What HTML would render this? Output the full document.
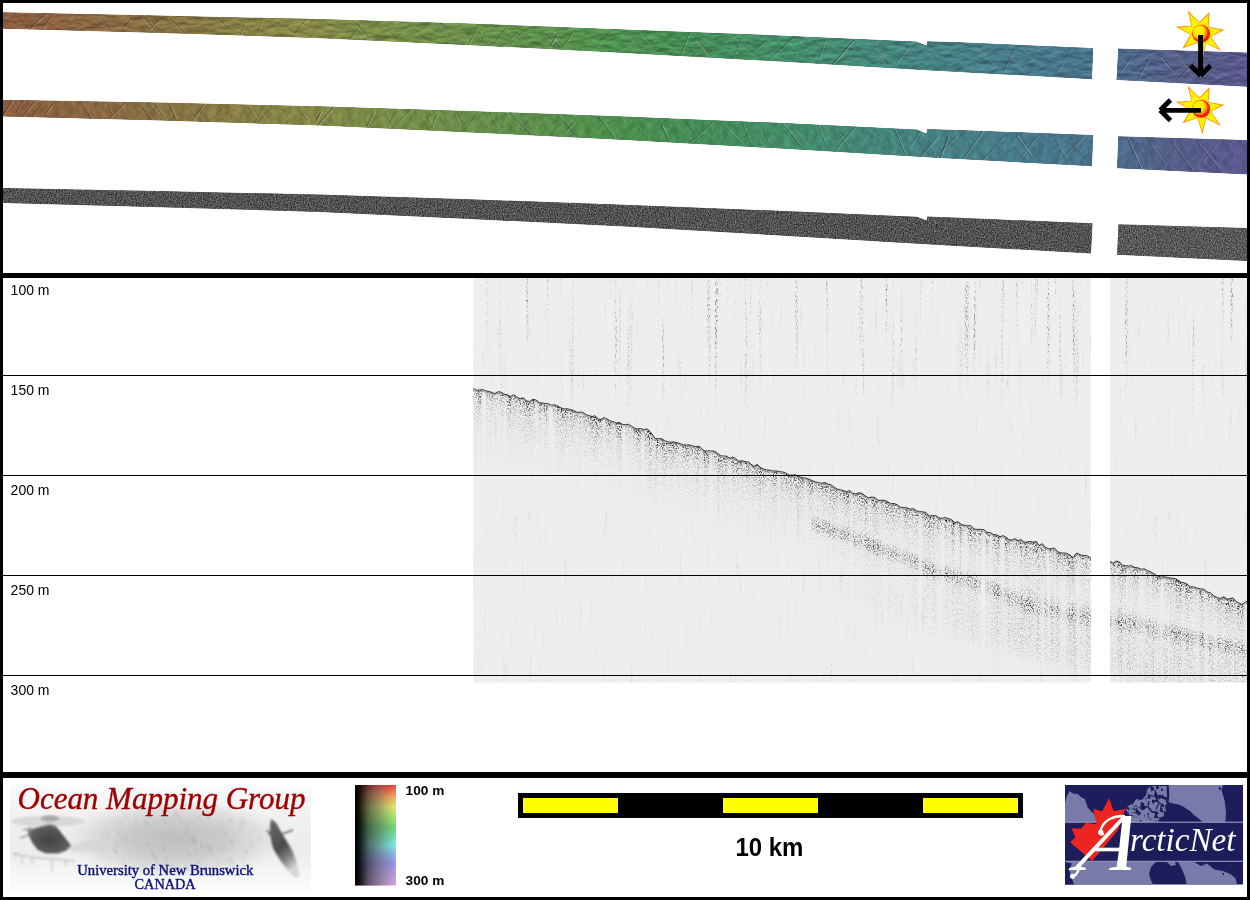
<!DOCTYPE html>
<html><head><meta charset="utf-8"><title>Ocean Mapping Group - ArcticNet</title>
<style>
html,body{margin:0;padding:0;background:#000;width:1250px;height:900px;overflow:hidden}
.abs{position:absolute;display:block}
#bot{position:absolute;left:3px;top:778px;width:1244px;height:119px;background:#fff}
</style></head><body>
<svg class="abs" style="left:0;top:0" width="1250" height="278" viewBox="0 0 1250 278">
<defs>
<linearGradient id="bg1" gradientUnits="userSpaceOnUse" x1="3" y1="0" x2="1247" y2="0"><stop offset="0.0000" stop-color="#8e5e40"/><stop offset="0.0780" stop-color="#8c6a42"/><stop offset="0.1584" stop-color="#8a7a45"/><stop offset="0.2387" stop-color="#898a48"/><stop offset="0.3191" stop-color="#78904a"/><stop offset="0.3995" stop-color="#65914c"/><stop offset="0.4799" stop-color="#52934f"/><stop offset="0.5442" stop-color="#479056"/><stop offset="0.6407" stop-color="#45906e"/><stop offset="0.7211" stop-color="#468782"/><stop offset="0.8014" stop-color="#497f8c"/><stop offset="0.8738" stop-color="#4b758f"/><stop offset="0.8979" stop-color="#506c90"/><stop offset="0.9461" stop-color="#56608a"/><stop offset="1.0000" stop-color="#5c5a92"/></linearGradient>
<radialGradient id="sunc" cx="0.36" cy="0.34" r="0.72"><stop offset="0" stop-color="#fff400"/><stop offset="0.5" stop-color="#ffe800"/><stop offset="0.75" stop-color="#ffa400"/><stop offset="1" stop-color="#ff6a00"/></radialGradient><linearGradient id="sunr" x1="0.1" y1="0.1" x2="0.8" y2="0.85"><stop offset="0" stop-color="#ff9a00"/><stop offset="0.45" stop-color="#ff3800"/><stop offset="1" stop-color="#ff0c00"/></linearGradient>
<filter id="tex" x="0" y="0" width="100%" height="100%" color-interpolation-filters="sRGB"><feTurbulence type="fractalNoise" baseFrequency="0.08 0.16" numOctaves="3" seed="7" result="n"/><feDiffuseLighting in="n" surfaceScale="0.7" diffuseConstant="1" lighting-color="#fff" result="l"><feDistantLight azimuth="270" elevation="45"/></feDiffuseLighting><feComposite in="l" in2="SourceGraphic" operator="arithmetic" k1="1.38" k2="0" k3="0" k4="0" result="m"/><feComposite in="m" in2="SourceGraphic" operator="in"/></filter>
<filter id="tex2" x="0" y="0" width="100%" height="100%" color-interpolation-filters="sRGB"><feTurbulence type="fractalNoise" baseFrequency="0.08 0.16" numOctaves="3" seed="7" result="n"/><feDiffuseLighting in="n" surfaceScale="0.7" diffuseConstant="1" lighting-color="#fff" result="l"><feDistantLight azimuth="0" elevation="45"/></feDiffuseLighting><feComposite in="l" in2="SourceGraphic" operator="arithmetic" k1="1.38" k2="0" k3="0" k4="0" result="m"/><feComposite in="m" in2="SourceGraphic" operator="in"/></filter>
<filter id="gnoise" x="0" y="0" width="100%" height="100%" color-interpolation-filters="sRGB"><feTurbulence type="fractalNoise" baseFrequency="0.85 0.7" numOctaves="2" seed="3" result="n"/><feColorMatrix in="n" type="matrix" values="1 0 0 0 0  1 0 0 0 0  1 0 0 0 0  0 0 0 0 1" result="g"/><feComposite in="SourceGraphic" in2="g" operator="arithmetic" k1="0" k2="1" k3="0.62" k4="-0.31" result="m"/><feComposite in="m" in2="SourceGraphic" operator="in"/></filter>
<clipPath id="c1"><polygon points="3.0,12.3 160.0,15.6 320.0,19.0 470.0,23.4 625.0,29.5 780.0,35.4 916.5,41.6 926.5,45.6 927.3,41.3 960.0,42.3 1093.3,47.9 1092.0,79.2 930.0,70.4 780.0,61.6 625.0,53.0 470.0,45.2 320.0,38.2 160.0,33.0 3.0,28.7"/><polygon points="1118.2,48.4 1247.0,52.5 1247.0,86.8 1116.4,79.9"/></clipPath>
<clipPath id="c2"><polygon points="3.0,99.8 160.0,102.6 320.0,106.2 470.0,111.0 625.0,116.6 780.0,122.8 917.0,129.6 926.5,133.4 927.3,129.0 960.0,130.0 1093.3,135.0 1092.0,166.2 930.0,157.6 780.0,148.6 625.0,140.0 470.0,132.4 320.0,125.4 160.0,120.5 3.0,116.5"/><polygon points="1118.2,136.2 1247.0,140.0 1247.0,174.6 1117.0,168.2"/></clipPath>
</defs>
<rect x="3" y="3" width="1244" height="270" fill="#fff"/>
<g filter="url(#tex)">
<polygon points="3.0,12.3 160.0,15.6 320.0,19.0 470.0,23.4 625.0,29.5 780.0,35.4 916.5,41.6 926.5,45.6 927.3,41.3 960.0,42.3 1093.3,47.9 1092.0,79.2 930.0,70.4 780.0,61.6 625.0,53.0 470.0,45.2 320.0,38.2 160.0,33.0 3.0,28.7" fill="url(#bg1)"/>
<polygon points="1118.2,48.4 1247.0,52.5 1247.0,86.8 1116.4,79.9" fill="url(#bg1)"/>
</g>
<g filter="url(#tex2)">
<polygon points="3.0,99.8 160.0,102.6 320.0,106.2 470.0,111.0 625.0,116.6 780.0,122.8 917.0,129.6 926.5,133.4 927.3,129.0 960.0,130.0 1093.3,135.0 1092.0,166.2 930.0,157.6 780.0,148.6 625.0,140.0 470.0,132.4 320.0,125.4 160.0,120.5 3.0,116.5" fill="url(#bg1)"/>
<polygon points="1118.2,136.2 1247.0,140.0 1247.0,174.6 1117.0,168.2" fill="url(#bg1)"/>
</g>
<g clip-path="url(#c1)" fill="none"><path d="M17.3 17.3L27.3 27.8" stroke="#000" stroke-opacity="0.13" stroke-width="1.1"/><path d="M17.6 18.4L27.6 28.9" stroke="#fff" stroke-opacity="0.10" stroke-width="1.1"/><path d="M46.0 13.2L28.9 29.9" stroke="#000" stroke-opacity="0.26" stroke-width="1.2"/><path d="M46.3 14.3L29.2 31.0" stroke="#fff" stroke-opacity="0.21" stroke-width="1.2"/><path d="M52.3 14.2L42.4 29.4" stroke="#000" stroke-opacity="0.32" stroke-width="0.9"/><path d="M52.6 15.3L42.7 30.5" stroke="#fff" stroke-opacity="0.25" stroke-width="0.9"/><path d="M73.1 13.8L80.6 30.6" stroke="#000" stroke-opacity="0.18" stroke-width="1.5"/><path d="M73.4 14.9L80.9 31.7" stroke="#fff" stroke-opacity="0.14" stroke-width="1.5"/><path d="M100.1 15.4L109.1 30.7" stroke="#000" stroke-opacity="0.17" stroke-width="1.5"/><path d="M100.4 16.5L109.4 31.8" stroke="#fff" stroke-opacity="0.13" stroke-width="1.5"/><path d="M110.8 14.6L120.6 31.7" stroke="#000" stroke-opacity="0.14" stroke-width="1.0"/><path d="M111.1 15.7L120.9 32.8" stroke="#fff" stroke-opacity="0.11" stroke-width="1.0"/><path d="M131.3 18.7L124.3 27.4" stroke="#000" stroke-opacity="0.20" stroke-width="1.3"/><path d="M131.6 19.8L124.6 28.5" stroke="#fff" stroke-opacity="0.16" stroke-width="1.3"/><path d="M141.7 15.2L156.9 32.5" stroke="#000" stroke-opacity="0.31" stroke-width="1.4"/><path d="M142.0 16.3L157.2 33.6" stroke="#fff" stroke-opacity="0.25" stroke-width="1.4"/><path d="M148.1 15.4L159.0 32.7" stroke="#000" stroke-opacity="0.17" stroke-width="1.5"/><path d="M148.4 16.5L159.3 33.8" stroke="#fff" stroke-opacity="0.13" stroke-width="1.5"/><path d="M158.9 20.5L149.4 29.5" stroke="#000" stroke-opacity="0.26" stroke-width="1.3"/><path d="M159.2 21.6L149.7 30.6" stroke="#fff" stroke-opacity="0.21" stroke-width="1.3"/><path d="M167.4 15.8L184.8 33.2" stroke="#000" stroke-opacity="0.21" stroke-width="1.2"/><path d="M167.7 16.9L185.1 34.3" stroke="#fff" stroke-opacity="0.17" stroke-width="1.2"/><path d="M195.5 20.1L200.6 29.3" stroke="#000" stroke-opacity="0.20" stroke-width="1.4"/><path d="M195.8 21.2L200.9 30.4" stroke="#fff" stroke-opacity="0.16" stroke-width="1.4"/><path d="M216.5 17.7L229.7 29.7" stroke="#000" stroke-opacity="0.26" stroke-width="1.1"/><path d="M216.8 18.8L230.0 30.8" stroke="#fff" stroke-opacity="0.21" stroke-width="1.1"/><path d="M228.2 17.0L245.8 35.2" stroke="#000" stroke-opacity="0.36" stroke-width="0.8"/><path d="M228.5 18.1L246.1 36.3" stroke="#fff" stroke-opacity="0.29" stroke-width="0.8"/><path d="M246.1 21.5L239.8 35.5" stroke="#000" stroke-opacity="0.32" stroke-width="0.9"/><path d="M246.4 22.6L240.1 36.6" stroke="#fff" stroke-opacity="0.26" stroke-width="0.9"/><path d="M262.5 20.1L258.0 31.6" stroke="#000" stroke-opacity="0.28" stroke-width="0.9"/><path d="M262.8 21.2L258.3 32.7" stroke="#fff" stroke-opacity="0.23" stroke-width="0.9"/><path d="M281.0 20.0L292.2 32.8" stroke="#000" stroke-opacity="0.35" stroke-width="0.9"/><path d="M281.3 21.1L292.5 33.9" stroke="#fff" stroke-opacity="0.28" stroke-width="0.9"/><path d="M306.8 18.7L291.1 37.8" stroke="#000" stroke-opacity="0.19" stroke-width="1.3"/><path d="M307.1 19.8L291.4 38.9" stroke="#fff" stroke-opacity="0.15" stroke-width="1.3"/><path d="M333.6 24.0L338.0 35.1" stroke="#000" stroke-opacity="0.13" stroke-width="1.0"/><path d="M333.9 25.1L338.3 36.2" stroke="#fff" stroke-opacity="0.10" stroke-width="1.0"/><path d="M353.0 21.5L370.7 39.6" stroke="#000" stroke-opacity="0.37" stroke-width="1.0"/><path d="M353.3 22.6L371.0 40.7" stroke="#fff" stroke-opacity="0.30" stroke-width="1.0"/><path d="M363.3 20.3L349.2 40.2" stroke="#000" stroke-opacity="0.20" stroke-width="1.2"/><path d="M363.6 21.4L349.5 41.3" stroke="#fff" stroke-opacity="0.16" stroke-width="1.2"/><path d="M385.5 24.8L394.5 39.7" stroke="#000" stroke-opacity="0.21" stroke-width="1.4"/><path d="M385.8 25.9L394.8 40.8" stroke="#fff" stroke-opacity="0.17" stroke-width="1.4"/><path d="M412.3 27.7L425.1 39.5" stroke="#000" stroke-opacity="0.16" stroke-width="1.4"/><path d="M412.6 28.8L425.4 40.6" stroke="#fff" stroke-opacity="0.13" stroke-width="1.4"/><path d="M440.8 23.0L451.3 41.7" stroke="#000" stroke-opacity="0.28" stroke-width="1.5"/><path d="M441.1 24.1L451.6 42.8" stroke="#fff" stroke-opacity="0.22" stroke-width="1.5"/><path d="M459.2 23.1L471.7 44.7" stroke="#000" stroke-opacity="0.38" stroke-width="0.9"/><path d="M459.5 24.2L472.0 45.8" stroke="#fff" stroke-opacity="0.30" stroke-width="0.9"/><path d="M479.3 23.8L468.0 45.7" stroke="#000" stroke-opacity="0.24" stroke-width="1.0"/><path d="M479.6 24.9L468.3 46.8" stroke="#fff" stroke-opacity="0.19" stroke-width="1.0"/><path d="M486.6 30.4L481.3 42.6" stroke="#000" stroke-opacity="0.23" stroke-width="1.0"/><path d="M486.9 31.5L481.6 43.7" stroke="#fff" stroke-opacity="0.18" stroke-width="1.0"/><path d="M508.5 24.9L490.9 47.1" stroke="#000" stroke-opacity="0.23" stroke-width="1.0"/><path d="M508.8 26.0L491.2 48.2" stroke="#fff" stroke-opacity="0.18" stroke-width="1.0"/><path d="M524.3 29.2L508.3 47.7" stroke="#000" stroke-opacity="0.20" stroke-width="1.0"/><path d="M524.6 30.3L508.6 48.8" stroke="#fff" stroke-opacity="0.16" stroke-width="1.0"/><path d="M542.6 31.8L556.7 44.9" stroke="#000" stroke-opacity="0.29" stroke-width="1.1"/><path d="M542.9 32.9L557.0 46.0" stroke="#fff" stroke-opacity="0.23" stroke-width="1.1"/><path d="M552.1 33.1L564.4 49.1" stroke="#000" stroke-opacity="0.21" stroke-width="1.4"/><path d="M552.4 34.2L564.7 50.2" stroke="#fff" stroke-opacity="0.17" stroke-width="1.4"/><path d="M558.1 33.1L550.1 46.5" stroke="#000" stroke-opacity="0.35" stroke-width="1.2"/><path d="M558.4 34.2L550.4 47.6" stroke="#fff" stroke-opacity="0.28" stroke-width="1.2"/><path d="M574.4 30.8L561.7 48.4" stroke="#000" stroke-opacity="0.34" stroke-width="0.9"/><path d="M574.7 31.9L562.0 49.5" stroke="#fff" stroke-opacity="0.27" stroke-width="0.9"/><path d="M594.6 31.2L605.9 46.7" stroke="#000" stroke-opacity="0.25" stroke-width="1.0"/><path d="M594.9 32.3L606.2 47.8" stroke="#fff" stroke-opacity="0.20" stroke-width="1.0"/><path d="M612.1 29.0L592.3 52.3" stroke="#000" stroke-opacity="0.16" stroke-width="1.1"/><path d="M612.4 30.1L592.6 53.4" stroke="#fff" stroke-opacity="0.12" stroke-width="1.1"/><path d="M629.6 33.0L636.7 46.4" stroke="#000" stroke-opacity="0.34" stroke-width="1.3"/><path d="M629.9 34.1L637.0 47.5" stroke="#fff" stroke-opacity="0.27" stroke-width="1.3"/><path d="M642.5 33.6L656.9 51.4" stroke="#000" stroke-opacity="0.31" stroke-width="0.9"/><path d="M642.8 34.7L657.2 52.5" stroke="#fff" stroke-opacity="0.25" stroke-width="0.9"/><path d="M666.7 36.2L675.9 52.5" stroke="#000" stroke-opacity="0.13" stroke-width="1.0"/><path d="M667.0 37.3L676.2 53.6" stroke="#fff" stroke-opacity="0.10" stroke-width="1.0"/><path d="M689.1 33.8L682.0 52.5" stroke="#000" stroke-opacity="0.35" stroke-width="1.2"/><path d="M689.4 34.9L682.3 53.6" stroke="#fff" stroke-opacity="0.28" stroke-width="1.2"/><path d="M695.4 37.3L710.8 56.6" stroke="#000" stroke-opacity="0.34" stroke-width="1.4"/><path d="M695.7 38.4L711.1 57.7" stroke="#fff" stroke-opacity="0.27" stroke-width="1.4"/><path d="M712.8 36.3L692.6 56.1" stroke="#000" stroke-opacity="0.12" stroke-width="1.3"/><path d="M713.1 37.4L692.9 57.2" stroke="#fff" stroke-opacity="0.10" stroke-width="1.3"/><path d="M732.8 34.7L753.8 55.0" stroke="#000" stroke-opacity="0.25" stroke-width="1.0"/><path d="M733.1 35.8L754.1 56.1" stroke="#fff" stroke-opacity="0.20" stroke-width="1.0"/><path d="M742.5 35.7L733.5 58.1" stroke="#000" stroke-opacity="0.29" stroke-width="0.8"/><path d="M742.8 36.8L733.8 59.2" stroke="#fff" stroke-opacity="0.23" stroke-width="0.8"/><path d="M765.8 40.3L751.5 53.4" stroke="#000" stroke-opacity="0.18" stroke-width="1.3"/><path d="M766.1 41.4L751.8 54.5" stroke="#fff" stroke-opacity="0.14" stroke-width="1.3"/><path d="M794.7 36.1L765.8 62.5" stroke="#000" stroke-opacity="0.17" stroke-width="1.4"/><path d="M795.0 37.2L766.1 63.6" stroke="#fff" stroke-opacity="0.13" stroke-width="1.4"/><path d="M802.3 36.4L792.2 62.9" stroke="#000" stroke-opacity="0.13" stroke-width="1.2"/><path d="M802.6 37.5L792.5 64.0" stroke="#fff" stroke-opacity="0.11" stroke-width="1.2"/><path d="M826.1 38.2L817.7 61.8" stroke="#000" stroke-opacity="0.21" stroke-width="1.3"/><path d="M826.4 39.3L818.0 62.9" stroke="#fff" stroke-opacity="0.17" stroke-width="1.3"/><path d="M854.1 40.0L834.0 62.9" stroke="#000" stroke-opacity="0.36" stroke-width="1.2"/><path d="M854.4 41.1L834.3 64.0" stroke="#fff" stroke-opacity="0.29" stroke-width="1.2"/><path d="M875.0 39.7L885.9 67.2" stroke="#000" stroke-opacity="0.37" stroke-width="1.4"/><path d="M875.3 40.8L886.2 68.3" stroke="#fff" stroke-opacity="0.30" stroke-width="1.4"/><path d="M901.7 42.4L923.3 66.3" stroke="#000" stroke-opacity="0.14" stroke-width="1.3"/><path d="M902.0 43.5L923.6 67.4" stroke="#fff" stroke-opacity="0.11" stroke-width="1.3"/><path d="M909.9 45.1L896.0 64.1" stroke="#000" stroke-opacity="0.37" stroke-width="0.9"/><path d="M910.2 46.2L896.3 65.2" stroke="#fff" stroke-opacity="0.30" stroke-width="0.9"/><path d="M928.6 42.7L939.3 69.9" stroke="#000" stroke-opacity="0.18" stroke-width="0.9"/><path d="M928.9 43.8L939.6 71.0" stroke="#fff" stroke-opacity="0.14" stroke-width="0.9"/><path d="M958.0 43.5L982.2 68.6" stroke="#000" stroke-opacity="0.18" stroke-width="1.0"/><path d="M958.3 44.6L982.5 69.7" stroke="#fff" stroke-opacity="0.14" stroke-width="1.0"/><path d="M978.7 46.5L1001.5 70.6" stroke="#000" stroke-opacity="0.20" stroke-width="1.2"/><path d="M979.0 47.6L1001.8 71.7" stroke="#fff" stroke-opacity="0.16" stroke-width="1.2"/><path d="M1007.8 49.7L1023.3 70.7" stroke="#000" stroke-opacity="0.22" stroke-width="0.9"/><path d="M1008.1 50.8L1023.6 71.8" stroke="#fff" stroke-opacity="0.18" stroke-width="0.9"/><path d="M1014.6 49.1L1002.0 74.4" stroke="#000" stroke-opacity="0.21" stroke-width="1.1"/><path d="M1014.9 50.2L1002.3 75.5" stroke="#fff" stroke-opacity="0.17" stroke-width="1.1"/><path d="M1027.8 49.4L1039.0 68.3" stroke="#000" stroke-opacity="0.14" stroke-width="1.4"/><path d="M1028.1 50.5L1039.3 69.4" stroke="#fff" stroke-opacity="0.11" stroke-width="1.4"/><path d="M1054.6 46.3L1069.0 77.2" stroke="#000" stroke-opacity="0.19" stroke-width="1.0"/><path d="M1054.9 47.4L1069.3 78.3" stroke="#fff" stroke-opacity="0.16" stroke-width="1.0"/><path d="M1072.2 47.0L1053.3 78.1" stroke="#000" stroke-opacity="0.13" stroke-width="1.1"/><path d="M1072.5 48.1L1053.6 79.2" stroke="#fff" stroke-opacity="0.10" stroke-width="1.1"/><path d="M1135.1 51.4L1120.9 71.3" stroke="#000" stroke-opacity="0.24" stroke-width="1.3"/><path d="M1135.4 52.5L1121.2 72.4" stroke="#fff" stroke-opacity="0.19" stroke-width="1.3"/><path d="M1150.1 57.2L1137.9 79.1" stroke="#000" stroke-opacity="0.26" stroke-width="1.3"/><path d="M1150.4 58.3L1138.2 80.2" stroke="#fff" stroke-opacity="0.21" stroke-width="1.3"/><path d="M1160.7 55.7L1175.6 73.4" stroke="#000" stroke-opacity="0.38" stroke-width="1.1"/><path d="M1161.0 56.8L1175.9 74.5" stroke="#fff" stroke-opacity="0.30" stroke-width="1.1"/><path d="M1176.5 51.2L1192.9 75.2" stroke="#000" stroke-opacity="0.20" stroke-width="1.5"/><path d="M1176.8 52.3L1193.2 76.3" stroke="#fff" stroke-opacity="0.16" stroke-width="1.5"/><path d="M1196.7 60.0L1178.2 79.0" stroke="#000" stroke-opacity="0.17" stroke-width="1.2"/><path d="M1197.0 61.1L1178.5 80.1" stroke="#fff" stroke-opacity="0.14" stroke-width="1.2"/><path d="M1225.9 54.3L1204.8 79.9" stroke="#000" stroke-opacity="0.15" stroke-width="1.2"/><path d="M1226.2 55.4L1205.1 81.0" stroke="#fff" stroke-opacity="0.12" stroke-width="1.2"/></g>
<g clip-path="url(#c2)" fill="none"><path d="M12.9 100.0L2.0 116.8" stroke="#000" stroke-opacity="0.27" stroke-width="1.4"/><path d="M14.0 100.2L3.1 117.0" stroke="#fff" stroke-opacity="0.22" stroke-width="1.4"/><path d="M24.0 100.5L16.0 112.4" stroke="#000" stroke-opacity="0.33" stroke-width="0.9"/><path d="M25.1 100.7L17.1 112.6" stroke="#fff" stroke-opacity="0.27" stroke-width="0.9"/><path d="M35.4 100.4L22.1 117.3" stroke="#000" stroke-opacity="0.34" stroke-width="1.0"/><path d="M36.5 100.6L23.2 117.5" stroke="#fff" stroke-opacity="0.27" stroke-width="1.0"/><path d="M44.8 100.5L31.6 117.6" stroke="#000" stroke-opacity="0.27" stroke-width="0.9"/><path d="M45.9 100.7L32.7 117.8" stroke="#fff" stroke-opacity="0.21" stroke-width="0.9"/><path d="M53.2 103.9L44.4 115.2" stroke="#000" stroke-opacity="0.32" stroke-width="1.1"/><path d="M54.3 104.1L45.5 115.4" stroke="#fff" stroke-opacity="0.26" stroke-width="1.1"/><path d="M81.3 101.2L91.3 118.5" stroke="#000" stroke-opacity="0.27" stroke-width="1.2"/><path d="M82.4 101.4L92.4 118.7" stroke="#fff" stroke-opacity="0.22" stroke-width="1.2"/><path d="M108.3 106.8L112.7 114.6" stroke="#000" stroke-opacity="0.32" stroke-width="0.9"/><path d="M109.4 107.0L113.8 114.8" stroke="#fff" stroke-opacity="0.25" stroke-width="0.9"/><path d="M126.1 102.4L110.1 117.3" stroke="#000" stroke-opacity="0.33" stroke-width="1.0"/><path d="M127.2 102.6L111.2 117.5" stroke="#fff" stroke-opacity="0.27" stroke-width="1.0"/><path d="M140.5 104.7L151.8 119.2" stroke="#000" stroke-opacity="0.24" stroke-width="1.3"/><path d="M141.6 104.9L152.9 119.4" stroke="#fff" stroke-opacity="0.19" stroke-width="1.3"/><path d="M147.9 102.4L162.8 120.2" stroke="#000" stroke-opacity="0.22" stroke-width="1.3"/><path d="M149.0 102.6L163.9 120.4" stroke="#fff" stroke-opacity="0.18" stroke-width="1.3"/><path d="M154.5 102.5L165.5 120.4" stroke="#000" stroke-opacity="0.19" stroke-width="1.3"/><path d="M155.6 102.7L166.6 120.6" stroke="#fff" stroke-opacity="0.16" stroke-width="1.3"/><path d="M170.0 105.2L175.4 118.4" stroke="#000" stroke-opacity="0.33" stroke-width="1.4"/><path d="M171.1 105.4L176.5 118.6" stroke="#fff" stroke-opacity="0.27" stroke-width="1.4"/><path d="M182.7 103.1L202.4 121.2" stroke="#000" stroke-opacity="0.14" stroke-width="0.9"/><path d="M183.8 103.3L203.5 121.4" stroke="#fff" stroke-opacity="0.11" stroke-width="0.9"/><path d="M204.5 103.6L191.5 121.9" stroke="#000" stroke-opacity="0.23" stroke-width="1.1"/><path d="M205.6 103.8L192.6 122.1" stroke="#fff" stroke-opacity="0.18" stroke-width="1.1"/><path d="M224.1 106.9L212.4 120.3" stroke="#000" stroke-opacity="0.13" stroke-width="1.4"/><path d="M225.2 107.1L213.5 120.5" stroke="#fff" stroke-opacity="0.11" stroke-width="1.4"/><path d="M248.8 106.8L257.6 120.3" stroke="#000" stroke-opacity="0.17" stroke-width="1.5"/><path d="M249.9 107.0L258.7 120.5" stroke="#fff" stroke-opacity="0.14" stroke-width="1.5"/><path d="M265.4 105.0L254.0 123.7" stroke="#000" stroke-opacity="0.15" stroke-width="1.1"/><path d="M266.5 105.2L255.1 123.9" stroke="#fff" stroke-opacity="0.12" stroke-width="1.1"/><path d="M272.0 106.0L260.9 119.7" stroke="#000" stroke-opacity="0.21" stroke-width="0.9"/><path d="M273.1 106.2L262.0 119.9" stroke="#fff" stroke-opacity="0.17" stroke-width="0.9"/><path d="M298.4 107.5L307.2 119.9" stroke="#000" stroke-opacity="0.31" stroke-width="1.1"/><path d="M299.5 107.7L308.3 120.1" stroke="#fff" stroke-opacity="0.25" stroke-width="1.1"/><path d="M321.0 111.7L315.9 121.8" stroke="#000" stroke-opacity="0.36" stroke-width="1.3"/><path d="M322.1 111.9L317.0 122.0" stroke="#fff" stroke-opacity="0.29" stroke-width="1.3"/><path d="M334.1 106.7L317.2 126.1" stroke="#000" stroke-opacity="0.32" stroke-width="1.2"/><path d="M335.2 106.9L318.3 126.3" stroke="#fff" stroke-opacity="0.26" stroke-width="1.2"/><path d="M358.8 111.1L371.1 126.0" stroke="#000" stroke-opacity="0.17" stroke-width="1.0"/><path d="M359.9 111.3L372.2 126.2" stroke="#fff" stroke-opacity="0.14" stroke-width="1.0"/><path d="M374.5 110.9L366.7 126.3" stroke="#000" stroke-opacity="0.33" stroke-width="1.1"/><path d="M375.6 111.1L367.8 126.5" stroke="#fff" stroke-opacity="0.26" stroke-width="1.1"/><path d="M385.1 113.9L395.0 128.4" stroke="#000" stroke-opacity="0.21" stroke-width="1.0"/><path d="M386.2 114.1L396.1 128.6" stroke="#fff" stroke-opacity="0.17" stroke-width="1.0"/><path d="M396.5 111.6L386.1 128.9" stroke="#000" stroke-opacity="0.12" stroke-width="1.4"/><path d="M397.6 111.8L387.2 129.1" stroke="#fff" stroke-opacity="0.10" stroke-width="1.4"/><path d="M410.8 109.8L395.2 125.9" stroke="#000" stroke-opacity="0.17" stroke-width="1.4"/><path d="M411.9 110.0L396.3 126.1" stroke="#fff" stroke-opacity="0.14" stroke-width="1.4"/><path d="M427.2 115.5L432.7 128.7" stroke="#000" stroke-opacity="0.31" stroke-width="0.9"/><path d="M428.3 115.7L433.8 128.9" stroke="#fff" stroke-opacity="0.25" stroke-width="0.9"/><path d="M437.0 113.7L431.9 127.5" stroke="#000" stroke-opacity="0.28" stroke-width="1.2"/><path d="M438.1 113.9L433.0 127.7" stroke="#fff" stroke-opacity="0.22" stroke-width="1.2"/><path d="M454.4 114.0L459.8 125.5" stroke="#000" stroke-opacity="0.31" stroke-width="0.9"/><path d="M455.5 114.2L460.9 125.7" stroke="#fff" stroke-opacity="0.25" stroke-width="0.9"/><path d="M478.4 111.3L463.9 132.8" stroke="#000" stroke-opacity="0.19" stroke-width="1.0"/><path d="M479.5 111.5L465.0 133.0" stroke="#fff" stroke-opacity="0.15" stroke-width="1.0"/><path d="M490.2 114.5L497.4 127.7" stroke="#000" stroke-opacity="0.21" stroke-width="1.1"/><path d="M491.3 114.7L498.5 127.9" stroke="#fff" stroke-opacity="0.17" stroke-width="1.1"/><path d="M510.2 112.5L531.4 134.4" stroke="#000" stroke-opacity="0.25" stroke-width="1.4"/><path d="M511.3 112.7L532.5 134.6" stroke="#fff" stroke-opacity="0.20" stroke-width="1.4"/><path d="M534.8 114.3L520.4 129.9" stroke="#000" stroke-opacity="0.15" stroke-width="0.8"/><path d="M535.9 114.5L521.5 130.1" stroke="#fff" stroke-opacity="0.12" stroke-width="0.8"/><path d="M557.2 114.2L578.3 136.7" stroke="#000" stroke-opacity="0.19" stroke-width="1.3"/><path d="M558.3 114.4L579.4 136.9" stroke="#fff" stroke-opacity="0.15" stroke-width="1.3"/><path d="M575.4 121.0L563.7 133.8" stroke="#000" stroke-opacity="0.25" stroke-width="1.2"/><path d="M576.5 121.2L564.8 134.0" stroke="#fff" stroke-opacity="0.20" stroke-width="1.2"/><path d="M598.0 115.6L614.9 138.7" stroke="#000" stroke-opacity="0.26" stroke-width="1.4"/><path d="M599.1 115.8L616.0 138.9" stroke="#fff" stroke-opacity="0.20" stroke-width="1.4"/><path d="M626.3 117.6L610.3 133.9" stroke="#000" stroke-opacity="0.14" stroke-width="1.0"/><path d="M627.4 117.8L611.4 134.1" stroke="#fff" stroke-opacity="0.11" stroke-width="1.0"/><path d="M634.0 123.3L644.6 134.5" stroke="#000" stroke-opacity="0.29" stroke-width="0.9"/><path d="M635.1 123.5L645.7 134.7" stroke="#fff" stroke-opacity="0.23" stroke-width="0.9"/><path d="M661.2 124.9L667.8 137.7" stroke="#000" stroke-opacity="0.38" stroke-width="1.4"/><path d="M662.3 125.1L668.9 137.9" stroke="#fff" stroke-opacity="0.30" stroke-width="1.4"/><path d="M671.1 121.4L689.7 138.4" stroke="#000" stroke-opacity="0.14" stroke-width="1.1"/><path d="M672.2 121.6L690.8 138.6" stroke="#fff" stroke-opacity="0.12" stroke-width="1.1"/><path d="M685.2 119.1L698.3 138.5" stroke="#000" stroke-opacity="0.25" stroke-width="0.8"/><path d="M686.3 119.3L699.4 138.7" stroke="#fff" stroke-opacity="0.20" stroke-width="0.8"/><path d="M714.8 120.2L688.1 145.0" stroke="#000" stroke-opacity="0.32" stroke-width="1.0"/><path d="M715.9 120.4L689.2 145.2" stroke="#fff" stroke-opacity="0.26" stroke-width="1.0"/><path d="M723.9 125.6L743.2 145.1" stroke="#000" stroke-opacity="0.26" stroke-width="1.2"/><path d="M725.0 125.8L744.3 145.3" stroke="#fff" stroke-opacity="0.21" stroke-width="1.2"/><path d="M741.8 121.7L751.2 144.1" stroke="#000" stroke-opacity="0.14" stroke-width="1.5"/><path d="M742.9 121.9L752.3 144.3" stroke="#fff" stroke-opacity="0.11" stroke-width="1.5"/><path d="M763.0 128.7L767.9 140.5" stroke="#000" stroke-opacity="0.24" stroke-width="1.0"/><path d="M764.1 128.9L769.0 140.7" stroke="#fff" stroke-opacity="0.19" stroke-width="1.0"/><path d="M782.3 123.2L801.3 146.5" stroke="#000" stroke-opacity="0.37" stroke-width="1.0"/><path d="M783.4 123.4L802.4 146.7" stroke="#fff" stroke-opacity="0.30" stroke-width="1.0"/><path d="M792.7 127.6L805.5 143.2" stroke="#000" stroke-opacity="0.29" stroke-width="1.0"/><path d="M793.8 127.8L806.6 143.4" stroke="#fff" stroke-opacity="0.24" stroke-width="1.0"/><path d="M818.0 124.8L826.3 147.0" stroke="#000" stroke-opacity="0.25" stroke-width="1.0"/><path d="M819.1 125.0L827.4 147.2" stroke="#fff" stroke-opacity="0.20" stroke-width="1.0"/><path d="M834.7 129.8L852.5 151.0" stroke="#000" stroke-opacity="0.20" stroke-width="1.0"/><path d="M835.8 130.0L853.6 151.2" stroke="#fff" stroke-opacity="0.16" stroke-width="1.0"/><path d="M846.2 131.7L828.7 149.7" stroke="#000" stroke-opacity="0.21" stroke-width="0.8"/><path d="M847.3 131.9L829.8 149.9" stroke="#fff" stroke-opacity="0.17" stroke-width="0.8"/><path d="M855.3 126.5L833.5 153.1" stroke="#000" stroke-opacity="0.29" stroke-width="1.1"/><path d="M856.4 126.7L834.6 153.3" stroke="#fff" stroke-opacity="0.23" stroke-width="1.1"/><path d="M873.5 127.4L894.8 154.2" stroke="#000" stroke-opacity="0.19" stroke-width="0.8"/><path d="M874.6 127.6L895.9 154.4" stroke="#fff" stroke-opacity="0.15" stroke-width="0.8"/><path d="M888.2 132.6L905.9 149.0" stroke="#000" stroke-opacity="0.20" stroke-width="1.0"/><path d="M889.3 132.8L907.0 149.2" stroke="#fff" stroke-opacity="0.16" stroke-width="1.0"/><path d="M894.2 128.5L905.4 155.5" stroke="#000" stroke-opacity="0.32" stroke-width="0.9"/><path d="M895.3 128.7L906.5 155.7" stroke="#fff" stroke-opacity="0.26" stroke-width="0.9"/><path d="M919.8 131.1L908.0 149.3" stroke="#000" stroke-opacity="0.18" stroke-width="1.2"/><path d="M920.9 131.3L909.1 149.5" stroke="#fff" stroke-opacity="0.14" stroke-width="1.2"/><path d="M938.5 135.5L920.4 157.0" stroke="#000" stroke-opacity="0.20" stroke-width="1.5"/><path d="M939.6 135.7L921.5 157.2" stroke="#fff" stroke-opacity="0.16" stroke-width="1.5"/><path d="M948.1 136.9L940.2 157.6" stroke="#000" stroke-opacity="0.31" stroke-width="1.4"/><path d="M949.2 137.1L941.3 157.8" stroke="#fff" stroke-opacity="0.25" stroke-width="1.4"/><path d="M957.5 135.0L935.1 158.1" stroke="#000" stroke-opacity="0.30" stroke-width="1.0"/><path d="M958.6 135.2L936.2 158.3" stroke="#fff" stroke-opacity="0.24" stroke-width="1.0"/><path d="M964.2 138.6L951.5 153.9" stroke="#000" stroke-opacity="0.13" stroke-width="0.8"/><path d="M965.3 138.8L952.6 154.1" stroke="#fff" stroke-opacity="0.11" stroke-width="0.8"/><path d="M983.0 130.9L963.1 158.6" stroke="#000" stroke-opacity="0.25" stroke-width="1.2"/><path d="M984.1 131.1L964.2 158.8" stroke="#fff" stroke-opacity="0.20" stroke-width="1.2"/><path d="M1004.8 135.9L983.0 159.9" stroke="#000" stroke-opacity="0.18" stroke-width="1.3"/><path d="M1005.9 136.1L984.1 160.1" stroke="#fff" stroke-opacity="0.14" stroke-width="1.3"/><path d="M1016.3 135.6L1032.1 157.5" stroke="#000" stroke-opacity="0.32" stroke-width="1.2"/><path d="M1017.4 135.8L1033.2 157.7" stroke="#fff" stroke-opacity="0.26" stroke-width="1.2"/><path d="M1037.7 135.9L1018.4 160.1" stroke="#000" stroke-opacity="0.28" stroke-width="0.9"/><path d="M1038.8 136.1L1019.5 160.3" stroke="#fff" stroke-opacity="0.23" stroke-width="0.9"/><path d="M1055.3 139.8L1067.3 161.4" stroke="#000" stroke-opacity="0.20" stroke-width="1.2"/><path d="M1056.4 140.0L1068.4 161.6" stroke="#fff" stroke-opacity="0.16" stroke-width="1.2"/><path d="M1072.5 143.4L1088.7 161.0" stroke="#000" stroke-opacity="0.14" stroke-width="1.1"/><path d="M1073.6 143.6L1089.8 161.2" stroke="#fff" stroke-opacity="0.11" stroke-width="1.1"/><path d="M1085.4 134.7L1055.4 165.9" stroke="#000" stroke-opacity="0.17" stroke-width="1.5"/><path d="M1086.5 134.9L1056.5 166.1" stroke="#fff" stroke-opacity="0.14" stroke-width="1.5"/><path d="M1126.6 136.4L1140.9 168.7" stroke="#000" stroke-opacity="0.38" stroke-width="0.9"/><path d="M1127.7 136.6L1142.0 168.9" stroke="#fff" stroke-opacity="0.30" stroke-width="0.9"/><path d="M1148.0 140.9L1165.6 165.5" stroke="#000" stroke-opacity="0.22" stroke-width="1.1"/><path d="M1149.1 141.1L1166.7 165.7" stroke="#fff" stroke-opacity="0.18" stroke-width="1.1"/><path d="M1172.2 142.5L1192.6 170.0" stroke="#000" stroke-opacity="0.29" stroke-width="0.9"/><path d="M1173.3 142.7L1193.7 170.2" stroke="#fff" stroke-opacity="0.23" stroke-width="0.9"/><path d="M1197.8 142.4L1219.3 168.8" stroke="#000" stroke-opacity="0.30" stroke-width="1.1"/><path d="M1198.9 142.6L1220.4 169.0" stroke="#fff" stroke-opacity="0.24" stroke-width="1.1"/><path d="M1219.4 140.6L1201.2 163.7" stroke="#000" stroke-opacity="0.25" stroke-width="0.9"/><path d="M1220.5 140.8L1202.3 163.9" stroke="#fff" stroke-opacity="0.20" stroke-width="0.9"/></g>
<g filter="url(#gnoise)">
<polygon points="3.0,188.1 160.0,191.0 320.0,194.6 470.0,199.2 625.0,204.8 780.0,210.8 917.0,216.8 926.5,220.4 927.3,216.6 960.0,217.8 1092.6,223.3 1091.0,253.4 930.0,244.6 780.0,235.4 625.0,226.6 470.0,219.0 320.0,212.0 160.0,207.2 3.0,203.0" fill="#525252"/>
<polygon points="1118.4,224.2 1247.0,228.0 1247.0,261.0 1117.0,254.7" fill="#585858"/>
</g>
<polygon points="1187.6,10.6 1199.4,22.1 1209.6,11.8 1208.6,26.8 1224.5,29.7 1211.2,36.7 1221.0,50.8 1206.1,43.6 1202.4,59.3 1197.2,43.0 1182.3,48.5 1190.3,34.8 1175.6,26.7 1191.2,25.6" fill="#ff9a10"/><polygon points="1189.4,13.7 1199.5,23.1 1208.3,15.1 1207.9,27.5 1220.9,30.3 1210.2,36.4 1218.3,48.5 1205.6,42.7 1202.2,55.7 1197.6,42.1 1185.1,46.3 1191.3,34.7 1179.1,27.6 1192.0,26.2" fill="#fff000"/><circle cx="1201.0" cy="33.6" r="9.1" fill="url(#sunr)"/><circle cx="1200.1" cy="32.8" r="7.3" fill="url(#sunc)"/>
<path d="M1200.6 35.1V75M1200.6 75.4L1190.6 65.4M1200.6 75.4L1210.6 65.4" stroke="#000" stroke-width="4.9" fill="none"/>
<polygon points="1187.6,85.7 1199.4,97.2 1209.6,86.9 1208.6,101.9 1224.5,104.8 1211.2,111.8 1221.0,125.9 1206.1,118.7 1202.4,134.4 1197.2,118.1 1182.3,123.6 1190.3,109.9 1175.6,101.8 1191.2,100.7" fill="#ff9a10"/><polygon points="1189.4,88.8 1199.5,98.2 1208.3,90.2 1207.9,102.6 1220.9,105.4 1210.2,111.5 1218.3,123.6 1205.6,117.8 1202.2,130.8 1197.6,117.2 1185.1,121.4 1191.3,109.8 1179.1,102.7 1192.0,101.3" fill="#fff000"/><circle cx="1201.0" cy="108.7" r="9.1" fill="url(#sunr)"/><circle cx="1200.1" cy="107.9" r="7.3" fill="url(#sunc)"/>
<path d="M1201 110.4H1160.6M1160.2 110.3L1170.5 100M1160.2 110.3L1170.5 120.6" stroke="#000" stroke-width="4.9" fill="none"/>
</svg>
<svg class="abs" style="left:0;top:278px" width="1250" height="494" viewBox="0 278 1250 494">
<defs>
<linearGradient id="rg" gradientUnits="userSpaceOnUse" x1="800" y1="0" x2="1040" y2="0"><stop offset="0" stop-color="#000"/><stop offset="1" stop-color="#fff"/></linearGradient><mask id="rmask" maskUnits="userSpaceOnUse" x="0" y="278" width="1250" height="494"><rect x="0" y="278" width="1250" height="494" fill="url(#rg)"/></mask><clipPath id="pclip"><rect x="473.3" y="278" width="617.8" height="404.6"/><rect x="1110" y="278" width="137" height="404.6"/></clipPath>
<filter id="streak" x="0" y="0" width="100%" height="100%" color-interpolation-filters="sRGB"><feTurbulence type="fractalNoise" baseFrequency="0.4 0.02" numOctaves="2" seed="11" result="n"/><feColorMatrix in="n" type="matrix" values="0 0 0 0 0  0 0 0 0 0  0 0 0 0 0  3.6 0 0 0 -2.35" result="a"/><feTurbulence type="fractalNoise" baseFrequency="0.8 0.8" numOctaves="1" seed="5" result="n2"/><feColorMatrix in="n2" type="matrix" values="0 0 0 0 0  0 0 0 0 0  0 0 0 0 0  0 3 0 0 -1.2" result="b"/><feComposite in="a" in2="b" operator="in" result="c"/><feFlood flood-color="#555" result="f"/><feComposite in="f" in2="c" operator="in" result="sp"/><feComposite in="sp" in2="SourceGraphic" operator="in"/></filter>
<filter id="streak2" x="0" y="0" width="100%" height="100%" color-interpolation-filters="sRGB"><feTurbulence type="fractalNoise" baseFrequency="0.2 0.004" numOctaves="2" seed="31" result="n"/><feColorMatrix in="n" type="matrix" values="0 0 0 0 0  0 0 0 0 0  0 0 0 0 0  6 0 0 0 -3.7" result="a"/><feTurbulence type="fractalNoise" baseFrequency="0.9 0.45" numOctaves="1" seed="8" result="n2"/><feColorMatrix in="n2" type="matrix" values="0 0 0 0 0  0 0 0 0 0  0 0 0 0 0  0 4 0 0 -1.9" result="b"/><feComposite in="a" in2="b" operator="in" result="c"/><feFlood flood-color="#444" result="f"/><feComposite in="f" in2="c" operator="in" result="sp"/><feComposite in="sp" in2="SourceGraphic" operator="in"/></filter>
<linearGradient id="tg" gradientUnits="userSpaceOnUse" x1="0" y1="278" x2="0" y2="420"><stop offset="0" stop-color="#fff"/><stop offset="0.35" stop-color="#bbb"/><stop offset="1" stop-color="#000"/></linearGradient><mask id="tmask" maskUnits="userSpaceOnUse" x="0" y="278" width="1250" height="150"><rect x="0" y="278" width="1250" height="150" fill="url(#tg)"/></mask>
<filter id="speck" x="0" y="0" width="100%" height="100%" color-interpolation-filters="sRGB"><feTurbulence type="fractalNoise" baseFrequency="0.75 0.6" numOctaves="2" seed="21" result="n"/><feColorMatrix in="n" type="matrix" values="0 0 0 0 0  0 0 0 0 0  0 0 0 0 0  4 0 0 0 -1.75" result="a"/><feTurbulence type="fractalNoise" baseFrequency="0.22 0.006" numOctaves="2" seed="9" result="n3"/><feColorMatrix in="n3" type="matrix" values="0 0 0 0 0  0 0 0 0 0  0 0 0 0 0  2.2 0 0 0 -0.4" result="col"/><feComposite in="a" in2="col" operator="in" result="ac"/><feComposite in="SourceGraphic" in2="ac" operator="in"/></filter>
</defs>
<rect x="3" y="278" width="1244" height="494" fill="#fff"/>
<g clip-path="url(#pclip)">
<rect x="473" y="278" width="775" height="405" fill="#eeeeee"/>
<rect x="473" y="278" width="775" height="405" fill="#000" filter="url(#streak)" opacity="0.28"/>
<g mask="url(#tmask)"><rect x="473" y="278" width="775" height="145" fill="#000" filter="url(#streak2)" opacity="0.9"/></g>
<defs><path id="sea" d="M473.3 388.3L476.6 390.3L480.0 390.0L483.0 389.7L486.0 391.0L489.0 391.4L492.0 392.6L495.0 393.6L498.0 391.8L501.0 392.1L504.0 394.2L507.2 394.7L510.4 396.6L513.6 394.7L516.8 397.0L520.0 398.7L523.2 397.7L526.4 400.9L529.6 401.5L532.8 399.3L536.0 400.0L539.2 402.5L542.4 403.1L545.5 403.5L548.6 403.8L551.7 405.3L554.8 404.8L557.9 406.3L561.0 407.9L564.1 408.9L567.3 408.8L570.4 409.6L573.5 410.4L576.6 412.1L579.7 412.3L582.8 412.2L585.9 414.7L588.9 415.6L592.0 416.6L595.0 415.7L598.0 419.1L601.0 419.4L604.1 417.6L607.1 419.0L610.1 421.0L613.1 421.6L616.2 423.1L619.2 422.3L622.3 424.3L625.3 424.7L628.4 424.3L631.5 426.2L634.5 428.1L637.6 428.9L640.7 428.6L643.8 429.8L646.8 428.8L649.9 431.3L655.0 438.5L658.2 438.8L661.3 438.6L664.5 440.6L667.6 441.7L670.8 442.2L673.9 441.9L677.1 442.7L680.2 443.6L683.4 445.1L686.5 444.9L689.7 445.1L692.8 446.0L696.0 446.7L699.1 446.1L702.1 449.3L705.2 451.1L708.3 450.8L711.3 451.0L714.4 451.2L717.5 453.2L720.5 455.8L723.6 456.0L726.7 456.2L729.7 458.2L732.8 457.0L735.9 458.9L738.9 461.3L742.0 460.7L745.0 461.6L748.0 462.0L751.0 464.1L754.0 466.5L757.0 464.4L760.0 467.1L763.2 468.9L766.5 469.9L769.7 470.1L772.9 471.1L776.1 470.9L779.3 471.7L782.6 472.0L785.8 473.0L789.1 475.2L792.3 475.1L795.6 474.8L798.9 476.7L802.1 477.6L805.4 478.1L808.6 479.0L811.9 480.5L815.2 481.8L818.4 482.7L821.7 483.2L824.8 482.5L827.9 484.1L831.0 484.8L834.1 487.1L837.2 489.0L840.3 489.7L843.5 490.6L846.6 491.6L849.7 490.6L852.8 493.5L855.9 493.8L859.0 492.8L862.1 493.4L865.2 496.0L868.4 497.8L871.6 497.1L874.8 497.5L878.0 500.3L881.2 500.3L884.4 500.3L887.6 501.6L890.8 503.8L894.0 503.5L897.2 504.8L900.4 507.3L903.6 507.5L906.8 507.8L910.0 509.2L913.2 508.6L916.4 510.7L919.6 511.7L922.8 511.8L926.0 512.5L929.2 516.1L932.4 515.6L935.6 515.5L938.8 517.8L942.0 518.3L945.2 517.6L948.4 518.5L951.6 519.8L954.8 522.7L958.0 521.7L961.2 524.5L964.4 525.3L967.6 525.8L970.8 525.6L974.0 529.1L977.2 529.4L980.4 529.3L983.7 529.6L986.9 532.3L990.2 532.6L993.5 534.5L996.7 534.9L1000.0 536.7L1003.0 535.7L1006.0 537.0L1009.0 539.8L1012.0 540.0L1015.0 538.5L1018.0 540.9L1021.0 539.6L1024.0 542.2L1027.0 542.0L1030.0 541.4L1033.0 542.2L1036.1 541.5L1039.1 545.5L1042.2 543.7L1045.3 547.3L1048.3 548.8L1051.4 548.5L1054.4 548.1L1057.5 551.5L1060.6 552.9L1063.6 553.0L1066.7 553.3L1069.8 555.0L1073.0 557.5L1076.7 553.0L1080.3 554.9L1083.8 555.4L1087.4 555.9L1091.0 558.2M1110.0 561.1L1113.1 563.4L1116.2 561.1L1119.3 561.9L1122.4 565.2L1125.4 565.6L1128.5 566.1L1131.6 565.7L1134.7 567.4L1137.8 567.8L1141.1 569.2L1144.5 568.9L1147.8 570.9L1151.1 571.9L1154.4 574.1L1157.8 576.2L1161.1 577.1L1164.4 576.7L1167.6 577.6L1170.9 578.1L1174.1 578.4L1177.3 579.5L1180.6 582.1L1183.8 582.7L1187.1 584.1L1190.3 586.9L1193.5 586.8L1196.8 588.0L1200.0 588.9L1203.6 589.1L1207.1 591.9L1210.7 593.0L1214.2 596.1L1217.8 597.8L1220.8 598.4L1223.9 596.7L1226.9 599.1L1230.0 598.8L1233.0 597.8L1236.0 601.4L1239.0 603.1L1242.0 604.4L1247.0 601.0"/><path id="sub" d="M812.0 521.0L818.0 523.4L824.0 524.9L830.0 528.0L836.0 530.3L842.0 532.0L848.6 532.7L855.2 538.5L861.8 538.8L868.4 541.3L875.0 545.0L882.0 547.3L889.0 551.1L896.0 552.1L903.0 555.2L910.0 557.0L916.4 560.5L922.8 564.5L929.2 566.1L935.6 570.0L942.0 572.0L948.0 571.9L954.0 576.3L960.0 577.2L966.0 577.7L972.0 578.2L978.0 583.2L984.0 583.3L990.0 585.0L996.7 589.7L1003.3 592.2L1010.0 596.2L1016.7 597.2L1023.3 602.0L1030.0 604.0L1036.0 607.1L1042.0 608.3L1048.0 606.6L1054.0 608.1L1060.0 611.0L1066.2 614.0L1072.4 612.9L1078.6 614.8L1084.8 614.6L1091.0 616.5M1110.0 620.0L1116.7 619.4L1123.3 621.6L1130.0 621.6L1136.7 622.3L1143.3 624.6L1150.0 626.0L1156.7 628.9L1163.3 630.4L1170.0 629.9L1176.7 632.8L1183.3 633.4L1190.0 636.0L1196.0 635.6L1202.0 637.3L1208.0 641.3L1214.0 642.1L1220.0 642.0L1226.8 644.7L1233.5 643.8L1240.2 645.7L1247.0 648.0"/></defs>
<g filter="url(#speck)" fill="none" stroke="#1a1a1a" stroke-width="2.2">
<use href="#sea" y="1.2" stroke-opacity="1.000"/>
<use href="#sea" y="3.2" stroke-opacity="1.000"/>
<use href="#sea" y="5.2" stroke-opacity="0.874"/>
<use href="#sea" y="7.2" stroke-opacity="0.701"/>
<use href="#sea" y="9.2" stroke-opacity="0.572"/>
<use href="#sea" y="11.2" stroke-opacity="0.475"/>
<use href="#sea" y="13.2" stroke-opacity="0.400"/>
<use href="#sea" y="15.2" stroke-opacity="0.342"/>
<use href="#sea" y="17.2" stroke-opacity="0.296"/>
<use href="#sea" y="19.2" stroke-opacity="0.260"/>
<use href="#sea" y="21.2" stroke-opacity="0.230"/>
<use href="#sea" y="23.2" stroke-opacity="0.206"/>
<use href="#sea" y="25.2" stroke-opacity="0.185"/>
<use href="#sea" y="27.2" stroke-opacity="0.168"/>
<use href="#sea" y="29.2" stroke-opacity="0.152"/>
<use href="#sea" y="31.2" stroke-opacity="0.139"/>
<use href="#sea" y="33.2" stroke-opacity="0.127"/>
<use href="#sea" y="35.2" stroke-opacity="0.117"/>
<use href="#sea" y="37.2" stroke-opacity="0.108"/>
<use href="#sea" y="39.2" stroke-opacity="0.099"/>
<use href="#sea" y="41.2" stroke-opacity="0.091"/>
<use href="#sea" y="43.2" stroke-opacity="0.084"/>
<use href="#sea" y="45.2" stroke-opacity="0.078"/>
<use href="#sea" y="47.2" stroke-opacity="0.072"/>
<use href="#sea" y="49.2" stroke-opacity="0.067"/>
<use href="#sea" y="51.2" stroke-opacity="0.062"/>
<use href="#sea" y="53.2" stroke-opacity="0.057"/>
<use href="#sea" y="55.2" stroke-opacity="0.053"/>
<use href="#sea" y="57.2" stroke-opacity="0.049"/>
<use href="#sea" y="59.2" stroke-opacity="0.045"/>
<use href="#sea" y="61.2" stroke-opacity="0.042"/>
<use href="#sea" y="63.2" stroke-opacity="0.035"/>
<use href="#sea" y="65.2" stroke-opacity="0.029"/>
<use href="#sea" y="67.2" stroke-opacity="0.023"/>
<use href="#sea" y="69.2" stroke-opacity="0.018"/>
<use href="#sea" y="71.2" stroke-opacity="0.014"/>
<use href="#sea" y="73.2" stroke-opacity="0.011"/>
<g mask="url(#rmask)">
<use href="#sea" y="43.2" stroke-opacity="0.040"/>
<use href="#sea" y="45.2" stroke-opacity="0.080"/>
<use href="#sea" y="47.2" stroke-opacity="0.120"/>
<use href="#sea" y="49.2" stroke-opacity="0.160"/>
<use href="#sea" y="51.2" stroke-opacity="0.200"/>
<use href="#sea" y="53.2" stroke-opacity="0.200"/>
<use href="#sea" y="55.2" stroke-opacity="0.200"/>
<use href="#sea" y="57.2" stroke-opacity="0.200"/>
<use href="#sea" y="59.2" stroke-opacity="0.200"/>
<use href="#sea" y="61.2" stroke-opacity="0.200"/>
<use href="#sea" y="63.2" stroke-opacity="0.200"/>
<use href="#sea" y="65.2" stroke-opacity="0.200"/>
<use href="#sea" y="67.2" stroke-opacity="0.200"/>
<use href="#sea" y="69.2" stroke-opacity="0.200"/>
<use href="#sea" y="71.2" stroke-opacity="0.200"/>
<use href="#sea" y="73.2" stroke-opacity="0.200"/>
<use href="#sea" y="75.2" stroke-opacity="0.200"/>
<use href="#sea" y="77.2" stroke-opacity="0.200"/>
<use href="#sea" y="79.2" stroke-opacity="0.200"/>
<use href="#sea" y="81.2" stroke-opacity="0.200"/>
<use href="#sea" y="83.2" stroke-opacity="0.200"/>
<use href="#sea" y="85.2" stroke-opacity="0.200"/>
<use href="#sea" y="87.2" stroke-opacity="0.200"/>
<use href="#sea" y="89.2" stroke-opacity="0.200"/>
<use href="#sea" y="91.2" stroke-opacity="0.200"/>
<use href="#sea" y="93.2" stroke-opacity="0.200"/>
<use href="#sea" y="95.2" stroke-opacity="0.200"/>
<use href="#sea" y="97.2" stroke-opacity="0.200"/>
<use href="#sea" y="99.2" stroke-opacity="0.200"/>
<use href="#sea" y="101.2" stroke-opacity="0.200"/>
<use href="#sea" y="103.2" stroke-opacity="0.183"/>
<use href="#sea" y="105.2" stroke-opacity="0.167"/>
<use href="#sea" y="107.2" stroke-opacity="0.150"/>
<use href="#sea" y="109.2" stroke-opacity="0.133"/>
<use href="#sea" y="111.2" stroke-opacity="0.117"/>
<use href="#sea" y="113.2" stroke-opacity="0.100"/>
<use href="#sea" y="115.2" stroke-opacity="0.083"/>
<use href="#sea" y="117.2" stroke-opacity="0.067"/>
<use href="#sea" y="119.2" stroke-opacity="0.050"/>
<use href="#sea" y="121.2" stroke-opacity="0.033"/>
<use href="#sea" y="123.2" stroke-opacity="0.017"/>
</g>
<use href="#sub" y="-6.0" stroke-opacity="0.150"/>
<use href="#sub" y="-4.0" stroke-opacity="0.300"/>
<use href="#sub" y="-2.0" stroke-opacity="0.450"/>
<use href="#sub" y="0.0" stroke-opacity="0.600"/>
<use href="#sub" y="2.0" stroke-opacity="0.750"/>
<use href="#sub" y="4.0" stroke-opacity="0.600"/>
<use href="#sub" y="6.0" stroke-opacity="0.450"/>
<use href="#sub" y="8.0" stroke-opacity="0.300"/>
<use href="#sub" y="10.0" stroke-opacity="0.150"/>
</g>
<path d="M473.3 388.3L476.6 390.3L480.0 390.0L483.0 389.7L486.0 391.0L489.0 391.4L492.0 392.6L495.0 393.6L498.0 391.8L501.0 392.1L504.0 394.2L507.2 394.7L510.4 396.6L513.6 394.7L516.8 397.0L520.0 398.7L523.2 397.7L526.4 400.9L529.6 401.5L532.8 399.3L536.0 400.0L539.2 402.5L542.4 403.1L545.5 403.5L548.6 403.8L551.7 405.3L554.8 404.8L557.9 406.3L561.0 407.9L564.1 408.9L567.3 408.8L570.4 409.6L573.5 410.4L576.6 412.1L579.7 412.3L582.8 412.2L585.9 414.7L588.9 415.6L592.0 416.6L595.0 415.7L598.0 419.1L601.0 419.4L604.1 417.6L607.1 419.0L610.1 421.0L613.1 421.6L616.2 423.1L619.2 422.3L622.3 424.3L625.3 424.7L628.4 424.3L631.5 426.2L634.5 428.1L637.6 428.9L640.7 428.6L643.8 429.8L646.8 428.8L649.9 431.3L655.0 438.5L658.2 438.8L661.3 438.6L664.5 440.6L667.6 441.7L670.8 442.2L673.9 441.9L677.1 442.7L680.2 443.6L683.4 445.1L686.5 444.9L689.7 445.1L692.8 446.0L696.0 446.7L699.1 446.1L702.1 449.3L705.2 451.1L708.3 450.8L711.3 451.0L714.4 451.2L717.5 453.2L720.5 455.8L723.6 456.0L726.7 456.2L729.7 458.2L732.8 457.0L735.9 458.9L738.9 461.3L742.0 460.7L745.0 461.6L748.0 462.0L751.0 464.1L754.0 466.5L757.0 464.4L760.0 467.1L763.2 468.9L766.5 469.9L769.7 470.1L772.9 471.1L776.1 470.9L779.3 471.7L782.6 472.0L785.8 473.0L789.1 475.2L792.3 475.1L795.6 474.8L798.9 476.7L802.1 477.6L805.4 478.1L808.6 479.0L811.9 480.5L815.2 481.8L818.4 482.7L821.7 483.2L824.8 482.5L827.9 484.1L831.0 484.8L834.1 487.1L837.2 489.0L840.3 489.7L843.5 490.6L846.6 491.6L849.7 490.6L852.8 493.5L855.9 493.8L859.0 492.8L862.1 493.4L865.2 496.0L868.4 497.8L871.6 497.1L874.8 497.5L878.0 500.3L881.2 500.3L884.4 500.3L887.6 501.6L890.8 503.8L894.0 503.5L897.2 504.8L900.4 507.3L903.6 507.5L906.8 507.8L910.0 509.2L913.2 508.6L916.4 510.7L919.6 511.7L922.8 511.8L926.0 512.5L929.2 516.1L932.4 515.6L935.6 515.5L938.8 517.8L942.0 518.3L945.2 517.6L948.4 518.5L951.6 519.8L954.8 522.7L958.0 521.7L961.2 524.5L964.4 525.3L967.6 525.8L970.8 525.6L974.0 529.1L977.2 529.4L980.4 529.3L983.7 529.6L986.9 532.3L990.2 532.6L993.5 534.5L996.7 534.9L1000.0 536.7L1003.0 535.7L1006.0 537.0L1009.0 539.8L1012.0 540.0L1015.0 538.5L1018.0 540.9L1021.0 539.6L1024.0 542.2L1027.0 542.0L1030.0 541.4L1033.0 542.2L1036.1 541.5L1039.1 545.5L1042.2 543.7L1045.3 547.3L1048.3 548.8L1051.4 548.5L1054.4 548.1L1057.5 551.5L1060.6 552.9L1063.6 553.0L1066.7 553.3L1069.8 555.0L1073.0 557.5L1076.7 553.0L1080.3 554.9L1083.8 555.4L1087.4 555.9L1091.0 558.2M1110.0 561.1L1113.1 563.4L1116.2 561.1L1119.3 561.9L1122.4 565.2L1125.4 565.6L1128.5 566.1L1131.6 565.7L1134.7 567.4L1137.8 567.8L1141.1 569.2L1144.5 568.9L1147.8 570.9L1151.1 571.9L1154.4 574.1L1157.8 576.2L1161.1 577.1L1164.4 576.7L1167.6 577.6L1170.9 578.1L1174.1 578.4L1177.3 579.5L1180.6 582.1L1183.8 582.7L1187.1 584.1L1190.3 586.9L1193.5 586.8L1196.8 588.0L1200.0 588.9L1203.6 589.1L1207.1 591.9L1210.7 593.0L1214.2 596.1L1217.8 597.8L1220.8 598.4L1223.9 596.7L1226.9 599.1L1230.0 598.8L1233.0 597.8L1236.0 601.4L1239.0 603.1L1242.0 604.4L1247.0 601.0" fill="none" stroke="#333" stroke-width="1.0" stroke-linejoin="round"/>
<path d="M473.3 389.8L476.6 391.8L480.0 391.5L483.0 391.2L486.0 392.5L489.0 392.9L492.0 394.1L495.0 395.1L498.0 393.3L501.0 393.6L504.0 395.7L507.2 396.2L510.4 398.1L513.6 396.2L516.8 398.5L520.0 400.2L523.2 399.2L526.4 402.4L529.6 403.0L532.8 400.8L536.0 401.5L539.2 404.0L542.4 404.6L545.5 405.0L548.6 405.3L551.7 406.8L554.8 406.3L557.9 407.8L561.0 409.4L564.1 410.4L567.3 410.3L570.4 411.1L573.5 411.9L576.6 413.6L579.7 413.8L582.8 413.7L585.9 416.2L588.9 417.1L592.0 418.1L595.0 417.2L598.0 420.6L601.0 420.9L604.1 419.1L607.1 420.5L610.1 422.5L613.1 423.1L616.2 424.6L619.2 423.8L622.3 425.8L625.3 426.2L628.4 425.8L631.5 427.7L634.5 429.6L637.6 430.4L640.7 430.1L643.8 431.3L646.8 430.3L649.9 432.8L655.0 440.0L658.2 440.3L661.3 440.1L664.5 442.1L667.6 443.2L670.8 443.7L673.9 443.4L677.1 444.2L680.2 445.1L683.4 446.6L686.5 446.4L689.7 446.6L692.8 447.5L696.0 448.2L699.1 447.6L702.1 450.8L705.2 452.6L708.3 452.3L711.3 452.5L714.4 452.7L717.5 454.7L720.5 457.3L723.6 457.5L726.7 457.7L729.7 459.7L732.8 458.5L735.9 460.4L738.9 462.8L742.0 462.2L745.0 463.1L748.0 463.5L751.0 465.6L754.0 468.0L757.0 465.9L760.0 468.6L763.2 470.4L766.5 471.4L769.7 471.6L772.9 472.6L776.1 472.4L779.3 473.2L782.6 473.5L785.8 474.5L789.1 476.7L792.3 476.6L795.6 476.3L798.9 478.2L802.1 479.1L805.4 479.6L808.6 480.5L811.9 482.0L815.2 483.3L818.4 484.2L821.7 484.7L824.8 484.0L827.9 485.6L831.0 486.3L834.1 488.6L837.2 490.5L840.3 491.2L843.5 492.1L846.6 493.1L849.7 492.1L852.8 495.0L855.9 495.3L859.0 494.3L862.1 494.9L865.2 497.5L868.4 499.3L871.6 498.6L874.8 499.0L878.0 501.8L881.2 501.8L884.4 501.8L887.6 503.1L890.8 505.3L894.0 505.0L897.2 506.3L900.4 508.8L903.6 509.0L906.8 509.3L910.0 510.7L913.2 510.1L916.4 512.2L919.6 513.2L922.8 513.3L926.0 514.0L929.2 517.6L932.4 517.1L935.6 517.0L938.8 519.3L942.0 519.8L945.2 519.1L948.4 520.0L951.6 521.3L954.8 524.2L958.0 523.2L961.2 526.0L964.4 526.8L967.6 527.3L970.8 527.1L974.0 530.6L977.2 530.9L980.4 530.8L983.7 531.1L986.9 533.8L990.2 534.1L993.5 536.0L996.7 536.4L1000.0 538.2L1003.0 537.2L1006.0 538.5L1009.0 541.3L1012.0 541.5L1015.0 540.0L1018.0 542.4L1021.0 541.1L1024.0 543.7L1027.0 543.5L1030.0 542.9L1033.0 543.7L1036.1 543.0L1039.1 547.0L1042.2 545.2L1045.3 548.8L1048.3 550.3L1051.4 550.0L1054.4 549.6L1057.5 553.0L1060.6 554.4L1063.6 554.5L1066.7 554.8L1069.8 556.5L1073.0 559.0L1076.7 554.5L1080.3 556.4L1083.8 556.9L1087.4 557.4L1091.0 559.7M1110.0 562.6L1113.1 564.9L1116.2 562.6L1119.3 563.4L1122.4 566.7L1125.4 567.1L1128.5 567.6L1131.6 567.2L1134.7 568.9L1137.8 569.3L1141.1 570.7L1144.5 570.4L1147.8 572.4L1151.1 573.4L1154.4 575.6L1157.8 577.7L1161.1 578.6L1164.4 578.2L1167.6 579.1L1170.9 579.6L1174.1 579.9L1177.3 581.0L1180.6 583.6L1183.8 584.2L1187.1 585.6L1190.3 588.4L1193.5 588.3L1196.8 589.5L1200.0 590.4L1203.6 590.6L1207.1 593.4L1210.7 594.5L1214.2 597.6L1217.8 599.3L1220.8 599.9L1223.9 598.2L1226.9 600.6L1230.0 600.3L1233.0 599.3L1236.0 602.9L1239.0 604.6L1242.0 605.9L1247.0 602.5" fill="none" stroke="#555" stroke-width="1.2" stroke-opacity="0.35"/>
</g>
<rect x="3" y="375" width="1244" height="1" fill="#000"/>
<rect x="3" y="475" width="1244" height="1" fill="#000"/>
<rect x="3" y="575" width="1244" height="1" fill="#000"/>
<rect x="3" y="675" width="1244" height="1" fill="#000"/>
<text x="10.6" y="295" font-family="Liberation Sans, sans-serif" font-size="14" fill="#000">100 m</text>
<text x="10.6" y="395" font-family="Liberation Sans, sans-serif" font-size="14" fill="#000">150 m</text>
<text x="10.6" y="495" font-family="Liberation Sans, sans-serif" font-size="14" fill="#000">200 m</text>
<text x="10.6" y="595" font-family="Liberation Sans, sans-serif" font-size="14" fill="#000">250 m</text>
<text x="10.6" y="695" font-family="Liberation Sans, sans-serif" font-size="14" fill="#000">300 m</text>
</svg>
<div id="bot"></div>
<svg class="abs" style="left:10px;top:785px" width="301" height="108" viewBox="10 785 301 108">
<defs><radialGradient id="og1" gradientUnits="userSpaceOnUse" cx="175" cy="839" r="1" gradientTransform="translate(175 839) scale(112 40) translate(-175 -839)" fx="175" fy="839"><stop offset="0" stop-color="#bebebe"/><stop offset="0.45" stop-color="#cbcbcb"/><stop offset="0.75" stop-color="#d8d8d8" stop-opacity="0.75"/><stop offset="1" stop-color="#e0e0e0" stop-opacity="0"/></radialGradient><linearGradient id="og2" x1="0" y1="0" x2="0" y2="1"><stop offset="0" stop-color="#fbfbfb"/><stop offset="0.3" stop-color="#f0f0f0"/><stop offset="0.6" stop-color="#ececec"/><stop offset="1" stop-color="#fdfdfd"/></linearGradient><linearGradient id="shipg" x1="0" y1="0" x2="0.4" y2="1"><stop offset="0" stop-color="#6a6a6a"/><stop offset="0.55" stop-color="#4c4c4c"/><stop offset="0.8" stop-color="#8a8a8a"/><stop offset="1" stop-color="#d8d8d8"/></linearGradient><radialGradient id="fang" cx="0.5" cy="0.55" r="0.6"><stop offset="0" stop-color="#444"/><stop offset="0.7" stop-color="#5a5a5a"/><stop offset="1" stop-color="#8a8a8a"/></radialGradient><filter id="b1"><feGaussianBlur stdDeviation="0.8"/></filter><filter id="b2"><feGaussianBlur stdDeviation="2"/></filter></defs>
<rect x="10" y="785" width="301" height="108" fill="url(#og2)"/>
<rect x="10" y="785" width="301" height="108" fill="url(#og1)"/>
<g filter="url(#b1)" fill="none"><path d="M134.4 812.8l2.1 3.9" stroke="#555" stroke-opacity="0.15" stroke-width="1"/><path d="M135.4 812.8l2.1 3.9" stroke="#fff" stroke-opacity="0.10" stroke-width="0.8"/><path d="M106.1 832.5l3.1 5.7" stroke="#555" stroke-opacity="0.33" stroke-width="1"/><path d="M107.1 832.5l3.1 5.7" stroke="#fff" stroke-opacity="0.23" stroke-width="0.8"/><path d="M222.8 820.6l2.4 4.4" stroke="#555" stroke-opacity="0.25" stroke-width="1"/><path d="M223.8 820.6l2.4 4.4" stroke="#fff" stroke-opacity="0.17" stroke-width="0.8"/><path d="M130.8 867.2l3.0 5.4" stroke="#555" stroke-opacity="0.26" stroke-width="1"/><path d="M131.8 867.2l3.0 5.4" stroke="#fff" stroke-opacity="0.18" stroke-width="0.8"/><path d="M228.7 818.8l2.0 3.6" stroke="#555" stroke-opacity="0.31" stroke-width="1"/><path d="M229.7 818.8l2.0 3.6" stroke="#fff" stroke-opacity="0.22" stroke-width="0.8"/><path d="M217.2 862.4l3.1 5.6" stroke="#555" stroke-opacity="0.18" stroke-width="1"/><path d="M218.2 862.4l3.1 5.6" stroke="#fff" stroke-opacity="0.13" stroke-width="0.8"/><path d="M196.2 850.3l2.3 4.3" stroke="#555" stroke-opacity="0.31" stroke-width="1"/><path d="M197.2 850.3l2.3 4.3" stroke="#fff" stroke-opacity="0.21" stroke-width="0.8"/><path d="M174.1 811.9l3.2 5.8" stroke="#555" stroke-opacity="0.38" stroke-width="1"/><path d="M175.1 811.9l3.2 5.8" stroke="#fff" stroke-opacity="0.26" stroke-width="0.8"/><path d="M186.5 825.8l3.1 5.7" stroke="#555" stroke-opacity="0.45" stroke-width="1"/><path d="M187.5 825.8l3.1 5.7" stroke="#fff" stroke-opacity="0.32" stroke-width="0.8"/><path d="M242.3 862.0l2.4 4.3" stroke="#555" stroke-opacity="0.20" stroke-width="1"/><path d="M243.3 862.0l2.4 4.3" stroke="#fff" stroke-opacity="0.14" stroke-width="0.8"/><path d="M195.0 834.4l1.7 3.1" stroke="#555" stroke-opacity="0.37" stroke-width="1"/><path d="M196.0 834.4l1.7 3.1" stroke="#fff" stroke-opacity="0.26" stroke-width="0.8"/><path d="M102.7 847.3l1.9 3.5" stroke="#555" stroke-opacity="0.25" stroke-width="1"/><path d="M103.7 847.3l1.9 3.5" stroke="#fff" stroke-opacity="0.17" stroke-width="0.8"/><path d="M173.7 828.6l3.3 6.0" stroke="#555" stroke-opacity="0.31" stroke-width="1"/><path d="M174.7 828.6l3.3 6.0" stroke="#fff" stroke-opacity="0.22" stroke-width="0.8"/><path d="M163.9 819.4l2.6 4.7" stroke="#555" stroke-opacity="0.28" stroke-width="1"/><path d="M164.9 819.4l2.6 4.7" stroke="#fff" stroke-opacity="0.20" stroke-width="0.8"/><path d="M154.4 855.3l2.0 3.6" stroke="#555" stroke-opacity="0.42" stroke-width="1"/><path d="M155.4 855.3l2.0 3.6" stroke="#fff" stroke-opacity="0.29" stroke-width="0.8"/><path d="M222.8 846.6l1.8 3.3" stroke="#555" stroke-opacity="0.33" stroke-width="1"/><path d="M223.8 846.6l1.8 3.3" stroke="#fff" stroke-opacity="0.23" stroke-width="0.8"/><path d="M124.6 836.3l1.5 2.6" stroke="#555" stroke-opacity="0.43" stroke-width="1"/><path d="M125.6 836.3l1.5 2.6" stroke="#fff" stroke-opacity="0.30" stroke-width="0.8"/><path d="M217.7 869.4l1.4 2.6" stroke="#555" stroke-opacity="0.17" stroke-width="1"/><path d="M218.7 869.4l1.4 2.6" stroke="#fff" stroke-opacity="0.12" stroke-width="0.8"/><path d="M163.5 868.3l2.6 4.7" stroke="#555" stroke-opacity="0.35" stroke-width="1"/><path d="M164.5 868.3l2.6 4.7" stroke="#fff" stroke-opacity="0.24" stroke-width="0.8"/><path d="M144.0 818.6l2.2 4.1" stroke="#555" stroke-opacity="0.21" stroke-width="1"/><path d="M145.0 818.6l2.2 4.1" stroke="#fff" stroke-opacity="0.14" stroke-width="0.8"/><path d="M158.7 869.5l2.0 3.7" stroke="#555" stroke-opacity="0.13" stroke-width="1"/><path d="M159.7 869.5l2.0 3.7" stroke="#fff" stroke-opacity="0.09" stroke-width="0.8"/><path d="M225.9 829.9l1.9 3.5" stroke="#555" stroke-opacity="0.23" stroke-width="1"/><path d="M226.9 829.9l1.9 3.5" stroke="#fff" stroke-opacity="0.16" stroke-width="0.8"/><path d="M259.0 834.0l1.8 3.2" stroke="#555" stroke-opacity="0.14" stroke-width="1"/><path d="M260.0 834.0l1.8 3.2" stroke="#fff" stroke-opacity="0.10" stroke-width="0.8"/><path d="M208.0 815.9l1.5 2.6" stroke="#555" stroke-opacity="0.30" stroke-width="1"/><path d="M209.0 815.9l1.5 2.6" stroke="#fff" stroke-opacity="0.21" stroke-width="0.8"/><path d="M115.4 840.9l2.9 5.2" stroke="#555" stroke-opacity="0.29" stroke-width="1"/><path d="M116.4 840.9l2.9 5.2" stroke="#fff" stroke-opacity="0.21" stroke-width="0.8"/><path d="M259.9 837.5l1.8 3.3" stroke="#555" stroke-opacity="0.22" stroke-width="1"/><path d="M260.9 837.5l1.8 3.3" stroke="#fff" stroke-opacity="0.15" stroke-width="0.8"/><path d="M101.2 833.8l1.9 3.4" stroke="#555" stroke-opacity="0.32" stroke-width="1"/><path d="M102.2 833.8l1.9 3.4" stroke="#fff" stroke-opacity="0.23" stroke-width="0.8"/><path d="M233.8 838.9l1.4 2.6" stroke="#555" stroke-opacity="0.28" stroke-width="1"/><path d="M234.8 838.9l1.4 2.6" stroke="#fff" stroke-opacity="0.20" stroke-width="0.8"/><path d="M135.5 819.7l1.8 3.3" stroke="#555" stroke-opacity="0.41" stroke-width="1"/><path d="M136.5 819.7l1.8 3.3" stroke="#fff" stroke-opacity="0.28" stroke-width="0.8"/><path d="M250.0 843.3l3.3 6.0" stroke="#555" stroke-opacity="0.27" stroke-width="1"/><path d="M251.0 843.3l3.3 6.0" stroke="#fff" stroke-opacity="0.19" stroke-width="0.8"/><path d="M245.5 849.2l2.9 5.3" stroke="#555" stroke-opacity="0.37" stroke-width="1"/><path d="M246.5 849.2l2.9 5.3" stroke="#fff" stroke-opacity="0.26" stroke-width="0.8"/><path d="M177.5 812.1l1.8 3.2" stroke="#555" stroke-opacity="0.38" stroke-width="1"/><path d="M178.5 812.1l1.8 3.2" stroke="#fff" stroke-opacity="0.27" stroke-width="0.8"/><path d="M151.2 849.4l2.9 5.3" stroke="#555" stroke-opacity="0.48" stroke-width="1"/><path d="M152.2 849.4l2.9 5.3" stroke="#fff" stroke-opacity="0.34" stroke-width="0.8"/><path d="M231.1 840.8l2.6 4.8" stroke="#555" stroke-opacity="0.45" stroke-width="1"/><path d="M232.1 840.8l2.6 4.8" stroke="#fff" stroke-opacity="0.31" stroke-width="0.8"/><path d="M139.8 866.9l3.2 5.8" stroke="#555" stroke-opacity="0.14" stroke-width="1"/><path d="M140.8 866.9l3.2 5.8" stroke="#fff" stroke-opacity="0.10" stroke-width="0.8"/><path d="M206.6 808.9l3.1 5.6" stroke="#555" stroke-opacity="0.14" stroke-width="1"/><path d="M207.6 808.9l3.1 5.6" stroke="#fff" stroke-opacity="0.10" stroke-width="0.8"/><path d="M256.7 850.0l1.5 2.7" stroke="#555" stroke-opacity="0.16" stroke-width="1"/><path d="M257.7 850.0l1.5 2.7" stroke="#fff" stroke-opacity="0.11" stroke-width="0.8"/><path d="M201.1 843.6l2.8 5.1" stroke="#555" stroke-opacity="0.64" stroke-width="1"/><path d="M202.1 843.6l2.8 5.1" stroke="#fff" stroke-opacity="0.45" stroke-width="0.8"/><path d="M230.2 857.7l3.1 5.6" stroke="#555" stroke-opacity="0.32" stroke-width="1"/><path d="M231.2 857.7l3.1 5.6" stroke="#fff" stroke-opacity="0.22" stroke-width="0.8"/><path d="M241.7 819.3l2.7 4.9" stroke="#555" stroke-opacity="0.19" stroke-width="1"/><path d="M242.7 819.3l2.7 4.9" stroke="#fff" stroke-opacity="0.13" stroke-width="0.8"/><path d="M243.9 857.1l2.3 4.2" stroke="#555" stroke-opacity="0.26" stroke-width="1"/><path d="M244.9 857.1l2.3 4.2" stroke="#fff" stroke-opacity="0.18" stroke-width="0.8"/><path d="M194.3 838.3l3.0 5.5" stroke="#555" stroke-opacity="0.51" stroke-width="1"/><path d="M195.3 838.3l3.0 5.5" stroke="#fff" stroke-opacity="0.36" stroke-width="0.8"/><path d="M118.2 829.9l2.9 5.2" stroke="#555" stroke-opacity="0.32" stroke-width="1"/><path d="M119.2 829.9l2.9 5.2" stroke="#fff" stroke-opacity="0.22" stroke-width="0.8"/><path d="M185.7 831.2l2.9 5.3" stroke="#555" stroke-opacity="0.37" stroke-width="1"/><path d="M186.7 831.2l2.9 5.3" stroke="#fff" stroke-opacity="0.26" stroke-width="0.8"/><path d="M134.0 838.1l3.2 5.9" stroke="#555" stroke-opacity="0.24" stroke-width="1"/><path d="M135.0 838.1l3.2 5.9" stroke="#fff" stroke-opacity="0.17" stroke-width="0.8"/><path d="M114.1 847.0l3.1 5.6" stroke="#555" stroke-opacity="0.31" stroke-width="1"/><path d="M115.1 847.0l3.1 5.6" stroke="#fff" stroke-opacity="0.21" stroke-width="0.8"/><path d="M167.5 862.6l2.9 5.2" stroke="#555" stroke-opacity="0.20" stroke-width="1"/><path d="M168.5 862.6l2.9 5.2" stroke="#fff" stroke-opacity="0.14" stroke-width="0.8"/><path d="M242.2 818.9l2.0 3.6" stroke="#555" stroke-opacity="0.29" stroke-width="1"/><path d="M243.2 818.9l2.0 3.6" stroke="#fff" stroke-opacity="0.21" stroke-width="0.8"/><path d="M165.6 858.7l1.7 3.1" stroke="#555" stroke-opacity="0.52" stroke-width="1"/><path d="M166.6 858.7l1.7 3.1" stroke="#fff" stroke-opacity="0.36" stroke-width="0.8"/><path d="M124.5 815.9l2.3 4.2" stroke="#555" stroke-opacity="0.18" stroke-width="1"/><path d="M125.5 815.9l2.3 4.2" stroke="#fff" stroke-opacity="0.13" stroke-width="0.8"/><path d="M185.5 865.7l2.7 5.0" stroke="#555" stroke-opacity="0.17" stroke-width="1"/><path d="M186.5 865.7l2.7 5.0" stroke="#fff" stroke-opacity="0.12" stroke-width="0.8"/><path d="M147.1 842.0l2.3 4.2" stroke="#555" stroke-opacity="0.52" stroke-width="1"/><path d="M148.1 842.0l2.3 4.2" stroke="#fff" stroke-opacity="0.37" stroke-width="0.8"/><path d="M175.9 811.0l1.8 3.4" stroke="#555" stroke-opacity="0.35" stroke-width="1"/><path d="M176.9 811.0l1.8 3.4" stroke="#fff" stroke-opacity="0.25" stroke-width="0.8"/><path d="M154.6 856.6l3.3 6.0" stroke="#555" stroke-opacity="0.43" stroke-width="1"/><path d="M155.6 856.6l3.3 6.0" stroke="#fff" stroke-opacity="0.30" stroke-width="0.8"/><path d="M208.0 846.2l2.0 3.6" stroke="#555" stroke-opacity="0.61" stroke-width="1"/><path d="M209.0 846.2l2.0 3.6" stroke="#fff" stroke-opacity="0.43" stroke-width="0.8"/><path d="M173.0 866.2l2.0 3.6" stroke="#555" stroke-opacity="0.41" stroke-width="1"/><path d="M174.0 866.2l2.0 3.6" stroke="#fff" stroke-opacity="0.29" stroke-width="0.8"/><path d="M226.4 846.5l2.2 4.0" stroke="#555" stroke-opacity="0.25" stroke-width="1"/><path d="M227.4 846.5l2.2 4.0" stroke="#fff" stroke-opacity="0.18" stroke-width="0.8"/><path d="M223.8 829.9l2.6 4.8" stroke="#555" stroke-opacity="0.25" stroke-width="1"/><path d="M224.8 829.9l2.6 4.8" stroke="#fff" stroke-opacity="0.17" stroke-width="0.8"/><path d="M230.1 817.7l3.1 5.7" stroke="#555" stroke-opacity="0.23" stroke-width="1"/><path d="M231.1 817.7l3.1 5.7" stroke="#fff" stroke-opacity="0.16" stroke-width="0.8"/><path d="M191.2 829.1l2.6 4.7" stroke="#555" stroke-opacity="0.27" stroke-width="1"/><path d="M192.2 829.1l2.6 4.7" stroke="#fff" stroke-opacity="0.19" stroke-width="0.8"/><path d="M162.2 867.8l1.7 3.1" stroke="#555" stroke-opacity="0.31" stroke-width="1"/><path d="M163.2 867.8l1.7 3.1" stroke="#fff" stroke-opacity="0.22" stroke-width="0.8"/><path d="M149.6 825.8l1.4 2.6" stroke="#555" stroke-opacity="0.21" stroke-width="1"/><path d="M150.6 825.8l1.4 2.6" stroke="#fff" stroke-opacity="0.15" stroke-width="0.8"/><path d="M228.8 859.3l3.2 5.8" stroke="#555" stroke-opacity="0.20" stroke-width="1"/><path d="M229.8 859.3l3.2 5.8" stroke="#fff" stroke-opacity="0.14" stroke-width="0.8"/><path d="M192.6 838.7l2.5 4.5" stroke="#555" stroke-opacity="0.66" stroke-width="1"/><path d="M193.6 838.7l2.5 4.5" stroke="#fff" stroke-opacity="0.46" stroke-width="0.8"/><path d="M114.5 849.0l2.7 4.9" stroke="#555" stroke-opacity="0.37" stroke-width="1"/><path d="M115.5 849.0l2.7 4.9" stroke="#fff" stroke-opacity="0.26" stroke-width="0.8"/><path d="M198.2 860.9l2.0 3.6" stroke="#555" stroke-opacity="0.50" stroke-width="1"/><path d="M199.2 860.9l2.0 3.6" stroke="#fff" stroke-opacity="0.35" stroke-width="0.8"/><path d="M162.8 845.5l3.1 5.6" stroke="#555" stroke-opacity="0.54" stroke-width="1"/><path d="M163.8 845.5l3.1 5.6" stroke="#fff" stroke-opacity="0.38" stroke-width="0.8"/><path d="M146.7 821.2l2.0 3.6" stroke="#555" stroke-opacity="0.39" stroke-width="1"/><path d="M147.7 821.2l2.0 3.6" stroke="#fff" stroke-opacity="0.27" stroke-width="0.8"/><path d="M161.8 832.4l2.9 5.4" stroke="#555" stroke-opacity="0.36" stroke-width="1"/><path d="M162.8 832.4l2.9 5.4" stroke="#fff" stroke-opacity="0.25" stroke-width="0.8"/><path d="M163.7 806.9l1.7 3.1" stroke="#555" stroke-opacity="0.20" stroke-width="1"/><path d="M164.7 806.9l1.7 3.1" stroke="#fff" stroke-opacity="0.14" stroke-width="0.8"/><path d="M210.8 846.6l2.1 3.8" stroke="#555" stroke-opacity="0.61" stroke-width="1"/><path d="M211.8 846.6l2.1 3.8" stroke="#fff" stroke-opacity="0.43" stroke-width="0.8"/><path d="M199.1 816.3l1.5 2.7" stroke="#555" stroke-opacity="0.47" stroke-width="1"/><path d="M200.1 816.3l1.5 2.7" stroke="#fff" stroke-opacity="0.33" stroke-width="0.8"/><path d="M195.8 826.6l1.6 2.8" stroke="#555" stroke-opacity="0.32" stroke-width="1"/><path d="M196.8 826.6l1.6 2.8" stroke="#fff" stroke-opacity="0.23" stroke-width="0.8"/><path d="M132.1 867.3l3.1 5.6" stroke="#555" stroke-opacity="0.26" stroke-width="1"/><path d="M133.1 867.3l3.1 5.6" stroke="#fff" stroke-opacity="0.18" stroke-width="0.8"/><path d="M119.8 821.7l2.0 3.5" stroke="#555" stroke-opacity="0.37" stroke-width="1"/><path d="M120.8 821.7l2.0 3.5" stroke="#fff" stroke-opacity="0.26" stroke-width="0.8"/><path d="M122.3 858.2l2.7 4.9" stroke="#555" stroke-opacity="0.28" stroke-width="1"/><path d="M123.3 858.2l2.7 4.9" stroke="#fff" stroke-opacity="0.20" stroke-width="0.8"/><path d="M255.2 823.3l2.4 4.3" stroke="#555" stroke-opacity="0.13" stroke-width="1"/><path d="M256.2 823.3l2.4 4.3" stroke="#fff" stroke-opacity="0.09" stroke-width="0.8"/><path d="M147.9 814.0l1.5 2.7" stroke="#555" stroke-opacity="0.40" stroke-width="1"/><path d="M148.9 814.0l1.5 2.7" stroke="#fff" stroke-opacity="0.28" stroke-width="0.8"/><path d="M143.3 864.8l2.7 5.0" stroke="#555" stroke-opacity="0.33" stroke-width="1"/><path d="M144.3 864.8l2.7 5.0" stroke="#fff" stroke-opacity="0.23" stroke-width="0.8"/><path d="M204.4 868.9l3.1 5.6" stroke="#555" stroke-opacity="0.30" stroke-width="1"/><path d="M205.4 868.9l3.1 5.6" stroke="#fff" stroke-opacity="0.21" stroke-width="0.8"/><path d="M188.5 851.8l2.8 5.0" stroke="#555" stroke-opacity="0.46" stroke-width="1"/><path d="M189.5 851.8l2.8 5.0" stroke="#fff" stroke-opacity="0.32" stroke-width="0.8"/><path d="M178.9 816.2l3.0 5.5" stroke="#555" stroke-opacity="0.33" stroke-width="1"/><path d="M179.9 816.2l3.0 5.5" stroke="#fff" stroke-opacity="0.23" stroke-width="0.8"/><path d="M241.1 822.9l2.1 3.9" stroke="#555" stroke-opacity="0.31" stroke-width="1"/><path d="M242.1 822.9l2.1 3.9" stroke="#fff" stroke-opacity="0.22" stroke-width="0.8"/><path d="M238.9 827.7l2.1 3.9" stroke="#555" stroke-opacity="0.29" stroke-width="1"/><path d="M239.9 827.7l2.1 3.9" stroke="#fff" stroke-opacity="0.20" stroke-width="0.8"/></g>
<g filter="url(#b1)">
<ellipse cx="48" cy="821.5" rx="37" ry="5.5" fill="#d4d4d4" fill-opacity="0.85"/>
<ellipse cx="50" cy="818.5" rx="9.5" ry="3.2" fill="#a8a8a8"/>
<path d="M27 830 L50 824 L56 826 L71.5 846 L66 851 L58 853.5 L46 853.5 L38 850 L33 844 L29 836Z" fill="url(#fang)"/>
<path d="M20 838l9 -3M23 830l8 -2" stroke="#777" stroke-width="1.2" fill="none"/>
<path d="M72 845 Q88 838 110 842 L108 852 Q88 850 70 852Z" fill="#d6d6d6" fill-opacity="0.7"/>
</g>
<g filter="url(#b1)" fill="none" stroke="#999" stroke-opacity="0.7">
<path d="M12 853 L30 857 L52 859 L75 861" stroke-width="1.2"/>
<path d="M22 856v8M32 858v6M52 860v12M66 861v5M16 853v5" stroke-width="1.4" stroke-opacity="0.45"/>
</g>
<g filter="url(#b1)">
<path d="M271 819 Q276 821 280 830 L292 850 Q299 866 299.5 876 Q297 880 292 875 Q280 862 273 848 Q268 832 271 819Z" fill="url(#shipg)"/>
<path d="M267 830l4 6M282 834l11 -4" stroke="#666" stroke-width="1.6" fill="none"/>
</g>
<text x="17.5" y="808.7" font-family="Liberation Serif, serif" font-style="italic" font-size="30.5" fill="#a00000" stroke="#a00000" stroke-width="0.35" textLength="288" lengthAdjust="spacingAndGlyphs">Ocean Mapping Group</text>
<text x="77.3" y="874.8" font-family="Liberation Serif, serif" font-size="15" fill="#0e0e7a" stroke="#0e0e7a" stroke-width="0.4" textLength="176" lengthAdjust="spacingAndGlyphs">University of New Brunswick</text>
<text x="134.6" y="889.4" font-family="Liberation Serif, serif" font-size="15" fill="#0e0e7a" stroke="#0e0e7a" stroke-width="0.4" textLength="61" lengthAdjust="spacingAndGlyphs">CANADA</text>
</svg>
<svg class="abs" style="left:340px;top:780px" width="130" height="115" viewBox="340 780 130 115">
<defs><linearGradient id="hue" x1="0" y1="0" x2="0" y2="1"><stop offset="0" stop-color="#ff3c3c"/><stop offset="0.11" stop-color="#ffa860"/><stop offset="0.22" stop-color="#ecf070"/><stop offset="0.30" stop-color="#b4f070"/><stop offset="0.42" stop-color="#74dc78"/><stop offset="0.52" stop-color="#70e8b0"/><stop offset="0.60" stop-color="#80f0e8"/><stop offset="0.70" stop-color="#90b8f0"/><stop offset="0.78" stop-color="#9c98f0"/><stop offset="0.88" stop-color="#b8a0e8"/><stop offset="1" stop-color="#d8a8e0"/></linearGradient><linearGradient id="desat" x1="0" y1="0" x2="1" y2="0"><stop offset="0.1" stop-color="#888" stop-opacity="0"/><stop offset="0.5" stop-color="#888" stop-opacity="0.3"/><stop offset="0.9" stop-color="#999" stop-opacity="0.05"/></linearGradient><linearGradient id="shade" x1="0" y1="0" x2="1" y2="0"><stop offset="0" stop-color="#000" stop-opacity="1"/><stop offset="0.1" stop-color="#000" stop-opacity="0.93"/><stop offset="0.35" stop-color="#000" stop-opacity="0.55"/><stop offset="0.7" stop-color="#000" stop-opacity="0.2"/><stop offset="1" stop-color="#000" stop-opacity="0"/></linearGradient></defs>
<rect x="355" y="785" width="41" height="100.5" fill="url(#hue)"/>
<rect x="355" y="785" width="41" height="100.5" fill="url(#shade)"/>
<rect x="355" y="785" width="41" height="100.5" fill="url(#desat)"/>
<text transform="translate(405.6 795.4) scale(1.05 1)" font-family="Liberation Sans, sans-serif" font-weight="bold" font-size="13" fill="#000">100 m</text>
<text transform="translate(405.6 885.4) scale(1.05 1)" font-family="Liberation Sans, sans-serif" font-weight="bold" font-size="13" fill="#000">300 m</text>
</svg>
<svg class="abs" style="left:510px;top:785px" width="520" height="90" viewBox="510 785 520 90">
<rect x="518" y="793" width="505" height="25" fill="#000"/>
<rect x="523" y="798" width="95" height="15" fill="#ffff00"/>
<rect x="723" y="798" width="95" height="15" fill="#ffff00"/>
<rect x="923" y="798" width="95" height="15" fill="#ffff00"/>
<text transform="translate(735.4 855.8) scale(1 1.04)" font-family="Liberation Sans, sans-serif" font-weight="bold" font-size="24" fill="#000">10 km</text>
</svg>
<svg class="abs" style="left:1065px;top:785px" width="178" height="100" viewBox="1065 785 178 100">
<defs><filter id="mott" x="0" y="0" width="100%" height="100%" color-interpolation-filters="sRGB"><feTurbulence type="fractalNoise" baseFrequency="0.22 0.2" numOctaves="2" seed="4" result="n"/><feColorMatrix in="n" type="matrix" values="0 0 0 0 0  0 0 0 0 0  0 0 0 0 0  9 0 0 0 -4.6" result="a"/><feComposite in="SourceGraphic" in2="a" operator="out"/></filter></defs>
<rect x="1065" y="785" width="178" height="99.5" fill="#1d1d5b"/>
<g fill="#797aaa">
<path d="M1065 803 L1066.5 797 L1069.5 791 L1073 793.5 L1077.6 794 L1081 797 L1084.8 799 L1086.5 804 L1087.8 807.8 L1091 811 L1094.3 814.3 L1095.5 818 L1097.5 822 L1065 822Z"/>
<path filter="url(#mott)" d="M1150 786 L1167 786 L1167.8 802 L1165 806 L1166 812 L1163.5 818 L1158 820 L1150 818 L1146 813 L1140 815 L1134 812 L1130 814 L1125.6 810 L1128 806 L1133 803 L1136 799 L1142 800 L1146 795 L1147 790Z M1127 813 L1150 813 L1162 815 L1160 822 L1127 822Z"/>
<path d="M1128 818l4 -2 5 2 3 4h-13zM1142 819l5 -1 3 4h-9z"/>
<path d="M1167 785 L1223 785 L1221.5 790 L1224.6 800.5 L1226 812 L1225.4 822 L1203 822 L1198.5 818.5 L1194 815 L1190.5 811.5 L1186.8 809 L1183 806.5 L1179.5 804.8 L1173 803.5 L1167.8 802Z"/>
<path d="M1065 862 L1156 862 L1151 867 L1149 874 L1150.5 879 L1153 884.5 L1065 884.5Z"/>
<path d="M1178 862 L1194 862 L1201 866 L1207 863.5 L1214.4 869.6 L1223 871 L1230.4 874 L1235.5 878.3 L1237 884.5 L1186.8 884.5 L1185.5 879 L1184 874 L1181.5 868Z"/>
<path d="M1167 862h8l1 3 -5 1z"/>
</g>
<g fill="none" stroke="#1d1d5b" stroke-width="1.3" stroke-linejoin="round">
<path d="M1150 795 L1156 797 L1159 803 L1164 805M1156 797 L1155 790M1140 806 L1148 807 L1152 812 L1158 813M1148 807 L1149 801M1133 808 L1137 811M1159 803 L1156 809"/>
<path d="M1167.6 785 L1168.2 796 L1167.4 803" fill="none" stroke="#1d1d5b" stroke-width="2.2"/>
</g>
<path d="M1065 862 L1072 863.5 L1069 870 L1071 876 L1074 884.5 L1065 884.5Z" fill="#1d1d5b"/>
<path d="M1218.5 786.5l3 1.5 -2 3zM1222 873l2 0 0 3z" fill="#1d1d5b"/>
<rect x="1065" y="822" width="178" height="40" fill="#1d1d5b"/>
<rect x="1065" y="821.7" width="178" height="1" fill="#a9a9c8"/>
<rect x="1065" y="860.8" width="178" height="1" fill="#a9a9c8"/>
<path d="M1109.1 798.3 L1113.8 811.2 L1125.4 808.7 L1122 817 L1118 830 L1100 852 L1092 860.8 L1070 842.3 L1075.3 837.5 L1071.6 828.3 L1080.5 828.8 L1086.3 822.8 L1096.7 824.5 L1093.3 808.7 L1102.2 811.2Z" fill="#ee2420"/>
<text transform="translate(1073.5 870) skewX(-18)" x="0" y="0" font-family="Liberation Serif, serif" font-style="italic" fill="#fff" font-size="82" textLength="57" lengthAdjust="spacingAndGlyphs">A</text><text x="1130" y="851" font-family="Liberation Serif, serif" font-style="italic" fill="#fff" font-size="33" textLength="105.5" lengthAdjust="spacingAndGlyphs">rcticNet</text>
<g fill="none" stroke="#fff" stroke-linecap="round" stroke-linejoin="round" stroke-width="2.4">
<path d="M1080 866 C1078 872 1075 877.5 1071.5 876.5"/>
<path d="M1124 816 C1114 815.5 1104 820 1101 829 C1099.5 833 1101 836 1103 834"/>
</g>
<circle cx="1072.5" cy="876.3" r="2.5" fill="#fff"/><circle cx="1100.8" cy="832.5" r="2.7" fill="#fff"/>
</svg>
</body></html>
